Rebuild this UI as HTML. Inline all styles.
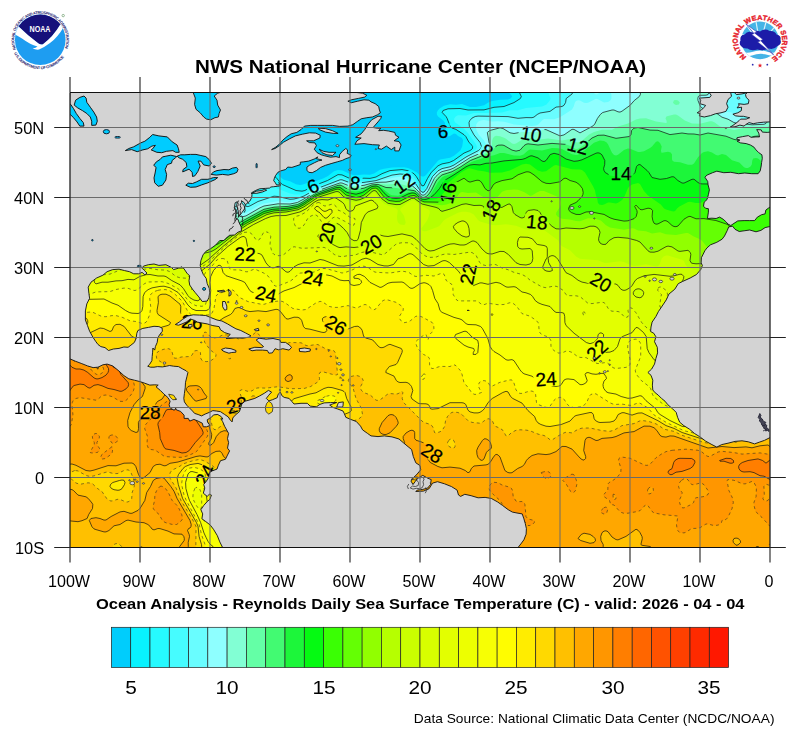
<!DOCTYPE html>
<html><head><meta charset="utf-8"><title>NHC SST</title>
<style>
html,body{margin:0;padding:0;background:#fff;overflow:hidden}
body{width:800px;height:737px;position:relative;overflow:hidden;font-family:"Liberation Sans",sans-serif;color:#000}
svg text{font-family:"Liberation Sans",sans-serif}
.t{position:absolute;white-space:nowrap;line-height:1}
</style></head><body>
<svg width="800" height="737" viewBox="0 0 800 737" style="position:absolute;left:0;top:0">
<defs><clipPath id="fr"><rect x="70.0" y="92.5" width="700.0" height="455.0"/></clipPath></defs>
<g clip-path="url(#fr)">
<rect x="60" y="80" width="720" height="480" fill="#00cdfc"/>
<defs><path id="r3" d="M68 88.5L112.6 88.5L114 91.6L116 92.1L118 91.1L120.1 88.5L202.2 88.5L202.8 90.5L206 94.2L210 96.4L212 96.6L214 95.7L215.9 92.5L215.2 88.5L774 88.5L774 550.5L66 550.5L66 88.5ZM328.5 94.5L327.4 96.5L327.5 98.5L328 99.7L330 101.1L332 99.9L333.3 96.5L332.6 94.5L332 94.1L330 93.8ZM175.6 96.5L173.5 98.5L174 101.1L176 102.8L178 102.2L179.9 100.5L180.6 98.5L178 96.5ZM194.6 96.5L194 98.5L194.2 102.5L196 107.7L198 109.4L200 110.2L202 110.4L204 109.6L205.2 108.5L206 106.5L206 104.5L205 102.5L199.2 98.5L196 94.5ZM299.9 146.5L298 150L297.6 154.5L298 160.2L300 162.8L302 160.9L302.3 158.5L300.1 152.5L300.7 148.5Z"/><path id="r4" d="M246 88.5L254.4 88.5L257.1 96.5L259.9 102.5L259.6 104.5L258 106.3L256 107.6L252 108.6L248 108.3L238 103.5L234.5 100.5L235.8 98.5L240 96.7L242.7 94.5L244 92.5L245 88.5ZM300 89.3L302.1 88.5L302.6 90.5L302.2 94.5L302.6 96.5L302 97.9L299.9 96.5L299.4 92.5ZM362 90L364 89L368.5 90.5L366.8 92.5L364 92.8L362 91.4L361.6 90.5ZM374 90.4L376.7 88.5L414.6 88.5L415.9 90.5L415.8 92.5L406.2 96.5L402 99.7L396.4 102.5L396.7 108.5L396 110.5L392 115.1L390 116.5L388.8 114.5L388.5 110.5L389.9 106.5L393.8 102.5L393.9 100.5L392.8 98.5L389.9 96.5L375.3 92.5ZM436 89.3L437.3 88.5L462.5 88.5L466 89.2L474 88.9L482 90.4L492 90.4L494 90.3L496.9 88.5L774 88.5L774 550.5L66 550.5L66 129.6L71.1 136.5L72.9 140.5L77.7 144.5L83.8 148.5L97.6 156.5L102 157.8L104 159L107.5 162.5L111.3 164.5L120 167L126 169.6L133.4 174.5L140 176.6L142.2 176.5L150 162.6L152.7 154.5L158 149.4L162 143.4L167.6 128.5L168.6 122.5L170 122L174 118L178.9 112.5L184 105.6L186 104.2L188 105L191.5 114.5L192.9 120.5L194 122.8L196 124.3L204 128.5L218 134.6L226 139.2L240 142L250 141.7L252 140.8L254 141.3L255 144.5L254 145L252 148.4L251.1 152.5L252.6 154.5L256 156L264 161.6L266 162.1L272 162L274 162.7L282 170.3L288 172.4L296 176.9L300 177.4L308 176.1L314 176.4L320 174.5L324.8 172.5L327.4 170.5L330 165.4L332 163.6L342 162.8L345 160.5L346 158.9L348 158.7L348.2 162.5L348.9 164.5L352 167.4L356 168.9L368 169L370 168.7L376 165.3L380 163.9L390 163.8L398 164.5L412 164.7L414 165.2L422 168.7L424 168.7L428 165.2L434 157.1L436 155.4L438 154.7L446 154.1L450 152.6L453.2 150.5L454.9 148.5L455.2 146.5L452.6 144.5L442 141.4L441.1 140.5L440.4 136.5L442 128.4L441.7 124.5L440 122.8L435.7 120.5L433.7 118.5L432.7 116.5L432.4 112.5L433.4 110.5L438.4 104.5L440.2 100.5L439.8 98.5L437.4 96.5L433.2 94.5L430.5 92.5ZM466.3 96.5L464.1 98.5L468.6 102.5L472 103.8L477.1 102.5L479.9 100.5L480.5 98.5L472 96.3ZM78 93.3L80 93.8L82.4 96.5L84.5 100.5L84.6 102.5L81.7 104.5L78 104.9L76 104.3L74.2 102.5L73.6 100.5L74 98.5L76 94.7ZM304 98L310 99.4L312.4 100.5L313 102.5L312.5 104.5L310 108.1L308 108.9L306 106.6L304.9 102.5L302.7 98.5ZM376 102L378 101.8L380 102.9L382.2 106.5L382 108.5L380.5 110.5L378 111.8L374 111.6L372.5 110.5L372.5 108.5L374 104.5ZM98 104.4L100 103.4L104 103L106.9 104.5L107.2 106.5L104 108.9L100 108.9L97.4 106.5ZM166 119.9L166.7 120.5L167.1 122.5L166 122.8L164.9 120.5ZM410 148.1L412 148.2L414.2 150.5L414.5 152.5L414 156.7L412 157.9L408.4 152.5L408 150.8ZM140 154.1L141 154.5L142.1 156.5L141.5 158.5L140 159.8L138.9 156.5Z"/><path id="r5" d="M400 90.2L404 90.5L402 92L400 92.1L398.7 90.5ZM510 89.7L510.9 88.5L774 88.5L774 550.5L66 550.5L66 141.2L72 143.4L80 147.9L100 159.6L107.4 164.5L120.1 170.5L128 173.5L133.3 176.5L138.8 178.5L142 179L144 178.5L146 175.4L155.6 156.5L164 143.1L168.9 132.5L174.4 122.5L180 115.5L182 113.8L184 113.1L186 115.6L188.1 126.5L190 129.4L196 132.4L200 135.7L206 139.2L217 144.5L223.2 150.5L224.8 152.5L227.8 158.5L230 161.1L232 162L238 162.8L240 163.8L243.2 166.5L248 172.7L252 174.5L256 174.2L262 172.5L268 170L272 169.6L276 172.2L282 178.4L284 179.8L290 181.2L296 184.2L300 185.1L302 184.8L308 182.7L316 181.1L323 178.5L328 176.1L334 171.2L338 170L342.6 170.5L350 174.1L354 175.2L364 174.6L370 174.8L374 173.6L380 169.8L384 168.7L392 167.4L404 167.3L408 168.1L412 169.7L417 172.5L420 175.6L422 176.6L424 176.4L426 175.1L438 160.7L440 159.6L450 157.7L454 155.8L460.3 150.5L462.2 146.5L463.1 140.5L462 138.1L458 136L456 133.9L454 133.4L450 136L448 136.4L446 135.6L445.3 134.5L445 132.5L445.4 126.5L444.8 122.5L443.3 120.5L438 116.6L436.9 114.5L436.8 112.5L437.8 110.5L439.6 108.5L444 105.7L450 104.2L456 104.7L462 104.1L470 107L476 107L484 105.3L488.3 102.5L492 101.1L500 99.7L508 99.5L510.6 98.5L512.2 96.5L510.9 94.5L508.6 92.5L509.2 90.5Z"/><path id="r6" d="M520 88.5L774 88.5L774 550.5L66 550.5L66 142.6L70 143.5L78 147.8L109.5 166.5L117.9 170.5L126 173.6L135.8 178.5L142 180.1L144 179.7L146 177.7L157.1 156.5L164.7 144.5L172 130.5L176 124.2L180 120.3L181.9 122.5L182.1 126.5L183.2 130.5L187.4 136.5L198 141.2L212 151.4L215.5 154.5L221 162.5L228 169.6L230 170.9L236 172.6L238 174.1L242 179.7L246 182.4L254 183.5L258 183.1L262 180.9L268 176.5L272 175.5L274 176L276 177.4L280 182.4L282.4 184.5L296 190.5L302 191.2L304.9 190.5L312 186.5L327.6 180.5L338 174.6L342 174.9L349.9 178.5L352 178.9L364 178.2L370 178.4L376 177L382 173.7L390 170.6L402 169.6L408 170.7L414 173.8L416.3 176.5L422 185.9L424 185.5L427.5 178.5L431.2 172.5L438 165.8L442 163.9L449.2 162.5L453.7 160.5L464 153.1L470.2 150.5L472.5 148.5L472.6 146.5L472 145.3L469.1 142.5L465.8 136.5L464 134.7L456 129.4L452 128L450.2 126.5L447.2 118.5L446 116.5L442.2 112.5L443.1 110.5L448 108.8L460 108.5L468 110L484 109.9L494 107.3L504 106.5L514 102.6L520.4 98.5L521.3 96.5L519.4 92.5L519.3 90.5Z"/><path id="r7" d="M550 88.5L774 88.5L774 550.5L66 550.5L66 143.1L72 145.3L80 149.5L108 166.5L120.7 172.5L128 175.3L134.1 178.5L142 180.8L144.5 180.5L146.6 178.5L158 157.3L165.1 146.5L170 137.4L174 131.6L176 130.2L178 131.8L180.4 136.5L180.7 140.5L179.4 146.5L180 149.4L182 150.5L184 150.3L190 146.5L192 147L195.4 152.5L204.5 158.5L208 164.7L210 166.2L218 169.9L226 177.9L232 181.2L242 188.5L252 191.5L258 194.1L262 193.9L264 192.6L266.7 186.5L268 184.8L270 183.6L272 183.7L277.4 188.5L290 193.5L294.8 194.5L302 194.5L306 193L312 189.2L316 187.3L329.2 182.5L338 178.1L340 177.6L342 177.8L348.6 180.5L352 181.1L370 180.4L377.8 178.5L390 173.2L394 172.3L402 171.7L406 172.3L412 175.2L414.8 178.5L420 187.7L422 190L424 189.9L426 187.1L428.8 180.5L432 174.6L438 168.8L442 166.7L452 164.2L466 155.1L474.8 150.5L476.6 148.5L476.9 146.5L476.1 144.5L468 133L464 128.8L455.2 122.5L454.1 120.5L454.2 118.5L455.6 116.5L458 115.3L466 115.6L474 112.9L484 113.1L502 112.4L510 110.3L518 110.2L526 108.1L542.1 106.5L546.5 104.5L549.8 100.5L550.5 98.5L548.4 92.5L549 88.5Z"/><path id="r8" d="M574 88.5L774 88.5L774 550.5L66 550.5L66 143.7L70 145L80 150.2L107 166.5L132.9 178.5L142 181.4L144 181.4L145.9 180.5L147.5 178.5L160 156.2L166 148.3L170 144.2L171.4 146.5L172 154.5L174 157.6L176 158.5L192 158.9L196.5 160.5L199 162.5L202.8 168.5L212 177.4L225.4 184.5L232 192.8L240 195.4L244 197.7L245.4 200.5L245.4 204.5L246 206.2L246.8 206.5L248 206.6L250 205.9L258 201.5L274 196.2L278 196.5L290 199.3L294 199L300 197.5L304 196L316 189L340 179.8L342 179.8L350 182.7L356 183L364 182.4L376 180.6L392 175.1L400 174L405.5 174.5L410 176.6L412.1 178.5L420 190.2L422 192.2L424 192.1L426.8 188.5L432.5 176.5L438 170.8L442 168.6L450 166.8L454 165L466 157L478.5 150.5L480.9 148.5L481.5 146.5L480.1 142.5L474 134.9L469.4 126.5L469 122.5L469.9 120.5L472 118.1L475.2 116.5L478 116.1L508 116.6L518 118.3L526 117.6L532 117.7L534 117.1L537.2 114.5L540 113L550 111.4L556 107.1L562 106.5L564 105.3L565.6 102.5L566.2 98.5L572 94L572.7 92.5L572.8 88.5Z"/><path id="r9" d="M578 88.5L600.3 88.5L599.3 92.5L598 94.1L596 94.6L590 90.3L586 89.7L580 90.4L578 89ZM610 88.5L713.3 88.5L714 93.4L716 95.2L719.3 96.5L721.6 98.5L722.3 100.5L722.6 108.5L724 110.8L726 111.7L732 112.4L738 116.4L742 118L752 119.7L754 119.3L755.1 118.5L754.9 112.5L755.6 102.5L754.6 100.5L750 98.8L747.1 96.5L745 92.5L744 88.5L774 88.5L774 550.5L66 550.5L66 144.3L70 145.5L78 149.6L106 166.5L132 178.6L142 181.9L144 182L147.1 180.5L160 158.8L162 156.4L164 155L166 156.5L168.7 162.5L172 164.9L176 165.7L188 165.1L192 166.5L193.3 168.5L194.3 172.5L196 175.3L204 179.6L210 184.3L218.8 188.5L221.7 190.5L225.9 196.5L228 198.5L236 202.2L238 204.1L242 212L244 213.3L246 213L260 204.9L264 203.4L278 201.3L288 202.3L292 202.2L298 200.6L306 196.5L316 190.2L340 181.5L342 181.5L350 184.2L360 184.4L384 180.1L394 177.4L402 176.5L406 177.6L410 180L420.5 192.5L422 193.8L424 193.7L427 190.5L434 176.7L438.1 172.5L442 170.1L450 168.2L454 166.6L468 157.4L482.7 150.5L485.4 148.5L486.5 146.5L486 144.2L484 140.4L478.7 134.5L476.6 130.5L476.1 128.5L476.2 124.5L478 121.8L480.7 120.5L484 120.1L492 121.6L498 121.2L504 121.7L514 124.4L532 126L536 125.6L538.3 124.5L542 120.4L544 119.1L554 119.2L560 117.2L572 109.4L573.7 106.5L574.9 102.5L576 101.1L578 100.2L580 100.5L584 102.7L586 103.1L588 102.8L596 98.7L598 99.2L604 102.6L608 102.1L610.3 100.5L611.4 98.5L611.4 94.5L609.4 88.5Z"/><path id="r10" d="M642 88.5L709 88.5L708.9 92.5L708 94.6L706 95.2L700 95.3L698.3 96.5L697.8 98.5L698 100.5L700.4 106.5L702.9 108.5L710 109.8L714 111.4L722 117.2L728 119.2L733.9 122.5L736 123L752 124.8L764 124.3L766 123.4L771.7 116.5L774 115.2L774 550.5L66 550.5L66 144.7L70 146L80 151.2L109.1 168.5L134 179.9L142 182.5L146 182.3L148.3 180.5L156 168.6L160 164L160.8 164.5L164 171.1L166 172.7L172 175.3L176 175.8L182 173.9L184 173.9L186 175.1L191.7 180.5L199.8 186.5L209.8 192.5L220 202.5L232 208.5L236 211.6L240 216.3L242 216.9L246 215.9L260 207.8L264 206L278 203.8L290 204L297.3 202.5L304 198.9L316 191.3L340 182.9L342 183L348 185.4L358 186L364 185.3L370 183.7L378 182.3L386 182.1L396 180.4L402 180.1L408 182.3L416 188.9L421.2 194.5L422 195.1L424 195.1L426 193.7L428.3 190.5L434.3 178.5L436 176.3L440 172.7L442 171.6L450 169.6L454 167.9L470 157.7L484 151.7L488 149L489.4 146.5L489.4 144.5L487.3 132.5L489.8 130.5L500 127.8L503 128.5L510 132.8L514 133.5L522 132L536 132.2L544 129.5L546 129.6L560 135.9L564 134.9L572 129.3L574 129.4L580 132.9L592 126.5L594.5 124.5L597.4 118.5L600.3 114.5L602.7 112.5L612 110L614 110L618 111.8L620 112.1L622 111.2L630 105.4L634.3 100.5L639.3 96.5L640.4 94.5L640.3 88.5Z"/><path id="r11" d="M650 88.5L658.8 88.5L657.3 90.5L654 91.9L652 91.7L650 90.6L648.9 88.5ZM674 100.3L676 100.1L678 100.5L679.8 102.5L678.8 104.5L676 105L674 104L673 102.5ZM668 116L674 114.5L676 114.6L678 115.4L684.8 120.5L692 123.4L700 123.7L710 121.2L712 121.3L714.8 122.5L720 126.6L734 130L744 127.9L766 127.9L768 126.7L774 119.6L774 550.5L66 550.5L66 145.1L70 146.4L80 151.6L106 167.4L118 173.3L136 181.1L142 183L146 183.3L148 182.3L154 175.5L156 174.7L162 179.5L168 183.4L170 184.1L174 184.4L180 183.6L186 185.2L202 194.6L204.3 196.5L209.8 204.5L212 206.5L218 210.8L227.5 214.5L229.6 216.5L232 220.6L234 221.5L238 220.9L244 218.6L264 207.9L276 205.7L290 205.2L296 204.1L300 202.5L316 192.2L336 185.1L340 184.1L342 184.4L348 187L358 187.5L364 186.7L370.3 184.5L376 183.4L386 184.6L394 183.9L402 184.4L408 186.1L414 189.1L416 190.3L420 194.8L422 196.2L424 196.3L426 195.2L428.4 192.5L434.6 180.5L437.6 176.5L440 174.3L443.5 172.5L450 170.9L454 169.3L471.2 158.5L484 153.4L489 150.5L491 148.5L491.8 146.5L492.2 140.5L492.8 138.5L494 136.7L496 135.8L500 136.2L504 137.8L506 138.8L512 143.5L514 144.1L516 143.6L522 139.8L526 138.4L530 138L538 139.7L548 138.4L562 140.6L570 139L576 142.2L578 142.5L582 140.8L589.1 134.5L594 132L602 129.7L612 129.8L618 126.4L628 123.6L636 119.6L640 118.4L646 118.2L656 121.6L666 123L666.8 122.5L666.5 120.5L665.5 118.5L666.4 116.5Z"/><path id="r12" d="M634 128.1L638 127.5L650 130.1L658 130.3L670 134.6L682 133L688 133.9L694 134L700 135L708 133L726 136.2L734 139.4L738 140.1L746 139.6L754 136.4L758 136L762 137.9L764 140.1L766.8 146.5L768 147.6L774 149.4L774 550.5L66 550.5L66 145.5L70 146.9L80 152.1L104 166.8L118 173.7L124 176L134 180.8L140 182.8L144 183.9L150 184.5L150.7 186.5L149.4 192.5L150 194.5L152 195.3L160 193L180 191.3L184 192.4L194 197L200 201.5L206 208.5L208 210.1L221.7 218.5L223.6 220.5L226.8 226.5L228 227.5L230 227.8L234 226.2L242 221.2L264 209.3L274 207.2L288 206.4L297.8 204.5L302 202.3L316 193L338 185.4L340 185.2L342 185.8L346 188.3L348 188.8L358 189.3L364 188.2L372 184.9L378 184.4L386 187.5L394 187.8L414 190.6L416 191.6L420.8 196.5L422 197.3L424 197.5L426.2 196.5L428.5 194.5L431.3 190.5L436 181.1L438 178.4L442 174.9L452 171.7L460 167.3L470.4 160.5L488 153.5L492.4 150.5L496 146.3L498 145.2L502 145L504 145.4L512 150.1L516 151.1L520 150.2L524 145.7L526 144.3L528 143.8L538 145L552 143.4L566 144.4L570 145.7L574 148.2L576 148.9L578 148.8L584 145L592 138L598 135.3L604 135.1L616 138.3L629.4 136.5L631 134.5L631.6 130.5Z"/><path id="r13" d="M600 140.4L604 141L606.7 142.5L608.1 144.5L612 152.8L614 155L616 155.6L618 154.7L624 150L628 148.5L630 148.7L638 151.9L640 152.1L644 151.2L650 147.9L652 146.5L656 141.8L658 141.2L660 143.1L661.7 146.5L661 150.5L661.3 152.5L662 152.8L668 151.7L670.7 152.5L672 154.5L672 159.5L672.4 160.5L674 161.7L680 162.2L688 164.8L692 164.7L694 163.5L698 157.3L702 152.9L704 151.9L708 151.2L712 152.5L716 155.1L718 155.5L722 154L726 154.9L732 160.2L739.3 162.5L744 167.3L746 168L748 167.9L750.5 166.5L751.8 164.5L752.3 160.5L753.2 158.5L756 157.9L758 158.5L760.5 160.5L762.3 166.5L764 168.8L768 169.9L774 170L774 550.5L66 550.5L66 145.9L70 147.3L79.9 152.5L108 169.3L134 181.2L144 184.6L146.4 186.5L146.3 188.5L144 194.5L143.5 198.5L144 202.1L146 204.4L148 204.9L152 204.2L162 199.6L174 198.7L178 199.5L184 203.6L192 204.2L196 206.5L204 215.4L206 216.6L212 218.4L215 220.5L218 223.9L222.3 230.5L224 232.1L226 232.6L230 230.9L244 221.3L264 210.5L274 208.2L290 207.1L298 205.3L303.2 202.5L316 193.9L338 186.3L340.7 186.5L346 190.1L348 190.8L356 191.6L362 190.6L370 186.4L376 185.1L380.1 186.5L390 194.4L392 195.2L398 195.7L408 192.2L412 191.5L414 191.8L416 192.8L420 197L422 198.2L424 198.6L428 196.9L430.6 194.5L438 182.2L442 177.6L444 176.3L452 173.5L466.4 164.5L474 161L488 156.5L494 155.3L500 153.1L504 153.1L514 155.5L520 155.7L523.5 154.5L528 150.5L530 149.6L542 150.4L552 148.1L558 148.3L562 149L572 154.3L576 155.1L578 154.8L582 152.6L594 142.7Z"/><path id="r14" d="M66.7 146.5L79.1 152.5L106 168.7L132 180.8L142.2 184.5L144.8 186.5L144.8 188.5L142 195.2L140 202.5L140 208.2L142 211.4L144 212.2L150 212.6L158 214.9L160 214.7L164.4 212.5L170 207.2L172 206.1L174 206.1L176 207.5L180 211.8L187.4 214.5L190 217.5L191.6 218.5L200 220.5L207.1 224.5L211.5 228.5L218 236.5L220 237.2L224 236.5L228 234.3L244 222.4L264 211.5L272 209.4L288 208.2L298 206.2L304 202.9L316 194.7L336 187.7L340 187.3L346 191.9L348 192.7L356 194.2L362.2 192.5L371.9 186.5L376 186L378 186.5L380 188.1L384 192.8L388 196.4L392 198L396 198.4L400 198L408 194L412 192.9L414 193L416 193.9L420 198L422 199.2L426 199.4L430 197.8L434.3 194.5L439.5 188.5L444.4 180.5L454 174.8L466 166.8L470 165L474 164.5L480 164.9L486 163.3L492 163L504 160.9L522 159.4L525.1 158.5L530 156L532 155.8L538 157.9L542 161L544 161.6L546 160.5L550.3 154.5L554 153.3L559 154.5L566 159L574 161.3L578 160.9L582 159.8L596 153.2L598 152.8L600 153.3L602 154.9L604.8 160.5L604.7 164.5L603.6 168.5L604 170.5L605.2 172.5L610 175.4L618 177.1L622 179L626 178.3L633.1 174.5L635 172.5L636.5 166.5L638 164.9L640 164.5L647.1 170.5L648.9 172.5L652 177.5L660 179.3L666.5 178.5L672 176.7L674 176.9L677.9 180.5L682 183L684 183.1L692 179.3L694 179.2L698 182.5L700 183.6L702 183.9L710 184L712 183.5L716 180.2L720 178.9L728 180.2L750 180.4L752 180.8L758 183.7L762 184.2L766 183.9L774 181.9L774 550.5L66 550.5L66 146.3Z"/><path id="r15" d="M68 147.4L78.3 152.5L106 169.2L132 181.3L140.9 184.5L143.6 186.5L143.6 188.5L140 197.2L135.9 210.5L136.4 214.5L138 217.1L140 218.3L146 219.6L152.3 222.5L156 223.4L162 222.8L170 219.2L174 219.3L178 220.3L180 221.2L186 225.7L190 227.2L196.6 228.5L206 235.8L210 240.5L212 241.8L214 242.3L218 241.6L224 238.6L244 223.5L264 212.5L274 210L288 209L298 207L302 205.1L314 196.7L318 194.5L338 188.1L340.2 188.5L346 193.5L356 196L360 195.2L364 193.4L369.9 188.5L372 187.5L376 187L378.9 188.5L386 196.9L388.2 198.5L392 199.7L400 199.6L412 194.1L414 194.1L416 195.1L420 199L424 200.7L436 198.9L438 198.3L440 196.7L445.8 190.5L447.3 184.5L448.6 182.5L461 172.5L468 168.6L470 168.3L478 170.6L484 171.2L490 172.8L502 172.4L509.8 170.5L522 164.6L526 163.8L530 164.5L537.9 170.5L542 171.8L546 171.3L554 165.5L556 165L572 169.2L580 169.4L582 169.9L585 172.5L593.2 186.5L595 190.5L596 195.8L597.3 198.5L597.8 202.5L599.2 204.5L602 204.9L604 204.6L608 202.6L610 202.4L616 203.6L618 202.8L622 199.9L624 197.4L627.8 188.5L629.2 186.5L632 184.6L638 183L640 184L644 191.1L648 195.4L660.8 204.5L664.1 208.5L666 209.6L672 211.3L674 211.4L675.6 210.5L677 208.5L679.4 206.5L688 202L690 201.7L696 203L700 203L714.3 196.5L718 195.4L722 195.6L724.3 196.5L726.3 198.5L728 203.1L730 204.7L734 204.4L736 203.3L740 199.3L744 198L752 197.8L754 198.6L758.2 202.5L762 203.8L764.2 202.5L765.5 194.5L766.6 192.5L770 188.7L774 187L774 239.7L772 240.9L770.7 244.5L770.6 246.5L772 253L774 255.5L774 550.5L66 550.5L66 146.8Z"/><path id="r16" d="M68 147.8L77.4 152.5L106 169.7L132 181.8L139.5 184.5L142.5 186.5L142.7 188.5L132.2 214.5L131.6 220.5L132 223.1L133 224.5L134 225.1L140 225.2L148 227.3L152 227.7L160 227.6L172 226L174 226.2L176 226.9L184 233L190 240.6L192 242.4L196 244.1L206 245.8L212 246L218 244L226 238.7L244 224.5L264 213.5L274 210.9L288 209.9L298 207.9L304 204.7L316 196.3L320.2 194.5L336 189.4L338 189.1L340 189.6L346 195L356 197.5L360 196.7L364 195L372 188.4L376 188L378 189.2L384 196.8L388 200L390 200.7L396 201.4L400 201.2L410 196L414 195.4L416 196.3L420 200.1L424 201.9L440 202.2L445.4 200.5L450.2 196.5L451.9 192.5L452.2 186.5L454 183.6L464 178.2L468 181.4L470 182.1L476 180.4L478 180.2L480 180.8L482 183L485 188.5L488 190.8L490 190.4L493.5 184.5L496 182.7L502 180.6L512 178.8L518 174.8L526 171.9L528 171.8L530 172.3L534 174.9L542 181.7L546 183.3L550 183.6L560 181.8L564 178.4L566 178.2L570 180.5L576 182.2L579.3 184.5L582.4 188.5L583.2 192.5L582.9 194.5L582 196.5L578 200.8L576 202.5L570 205.2L568.5 208.5L569 210.5L571.3 212.5L576 214.4L580 214.5L586 212L590 211.7L604 214.4L610 217.8L614 219.2L624 221.1L628 220.8L634 218.7L636.2 216.5L637.2 212.5L636.9 210.5L634.7 206.5L636 205.1L640 209.4L642 209.8L648 208.2L650.3 208.5L652 209.7L652.6 210.5L652.1 216.5L652.8 220.5L654 223.2L656 224.2L658 223.9L664 220.7L666 220.7L668 221.8L672 225.5L674 226.5L676 226.7L678 226L684 219.2L688 216.8L690 216.3L696 218.8L704 218.6L715.9 220.5L726 223.9L728 224.8L729.7 226.5L732 231.5L734 232.8L742 232.6L752 236.8L758 236.1L762 236.9L764 238.2L765.3 240.5L766.5 248.5L769.2 260.5L772 284.4L774 290.1L773.1 302.5L774 306.8L774 550.5L66 550.5L66 147.3Z"/><path id="r17" d="M68 148.3L79.9 154.5L104 169.3L134 183.2L138.2 184.5L141.4 186.5L141.7 188.5L140.9 190.5L135.1 204.5L131.8 210.5L125.6 226.5L124.8 232.5L126 235.1L130 237L136 237.5L153.5 232.5L162 232.1L170 232.5L174.8 234.5L179.8 238.5L185.3 248.5L187.5 250.5L190 251.5L194 251.4L202 249.8L210 249L214 248L222 243L245.7 224.5L264 214.6L272 212.1L286 211L298 208.7L304 205.7L316 197.3L322.9 194.5L335.5 190.5L338 190.2L340 191L344 195.2L346 196.5L356 198.9L360 198.1L364 196.5L367 194.5L371 190.5L374 189.1L376 189.3L377.6 190.5L384 198.7L388 201.6L390 202.2L396 202.9L400 202.7L410 197.5L414 196.6L416 197.7L420 201.3L424 203.2L442 205.2L446.5 204.5L452 202.4L454.3 200.5L460 192.8L462 191.9L468 193L476 192.5L484 197.4L488 198.3L494 198.7L496 198.1L498 196.6L502 191.7L506 190.3L514 189.4L518 189.7L524 192L530 195.8L532 195.6L536.8 192.5L540 191.1L544 191.1L556.9 196.5L560 199L561.1 202.5L560.9 204.5L560 206.9L556.3 212.5L556 214.5L557.5 216.5L562 218.7L570 219.5L576 220.9L580 221.3L588 218.3L594 218.4L600.9 220.5L606 225.3L610 227.5L624 229.8L632 228.2L634 228.4L638 230.4L646 231.2L652 233.4L660 232.3L666 234.2L676 235L686 233L688 233.1L693.8 236.5L700 239.2L702 240.7L706 245.7L708 247.2L716 249.8L734 244.8L744 243.8L746 244.9L752.1 250.5L756 255.1L760 257.8L764 259.8L766 262.3L767.6 268.5L770.5 288.5L770.9 304.5L772 308.1L774 310.2L774 550.5L66 550.5L66 147.8Z"/><path id="r18" d="M66.8 148.5L78.8 154.5L104 169.9L140.2 186.5L140.6 188.5L140 190.4L134 204.5L130.6 210.5L124 225L117.9 240.5L117.2 244.5L117.9 246.5L120 246.9L128 245.2L142 244.2L147.9 242.5L155.7 238.5L160 238.2L164 238.8L168 240.4L173.6 246.5L182 254L184 255.1L188 255.7L192 255.6L208 252.4L212 251.2L216 248.9L241.6 228.5L247.5 224.5L267 214.5L274 212.8L286 212L298 209.7L304 206.8L318 197.3L336 191.6L338 191.6L339.7 192.5L343.4 196.5L346 198.1L356 200.3L360 199.6L366 197L372 191.5L374 190.5L376 191L382 198.9L388 203.3L396 204.6L400 204.5L411.4 198.5L414 198.2L422 204L436 207.4L438.7 208.5L440 210.2L442 211.4L450 209.1L462 204.4L466 203.8L474 205.5L480 205.3L482 205.7L483.7 206.5L485.5 212.5L488 213.3L490 212.3L491.8 208.5L494 207.1L502 207.4L508 204.2L510 204L511.9 206.5L513.3 212.5L515 214.5L520 217.5L522 218L524 217.4L525 216.5L526 212.5L528.2 210.5L534 209.7L538 210.5L540 212.5L542.2 216.5L544 218.5L552 226.3L556 228.8L560 229L566 228L580 228.8L584 228.3L590 226.2L594 226.2L596 226.8L598 228.2L599.5 230.5L600 232.5L598.6 238.5L598.7 240.5L600 243L602 244.2L604 244.5L606 244.2L609.2 240.5L614 237.7L618 237.3L628 238.2L636.7 240.5L640 242L648 250.8L650 252.1L654 252.2L658 251.2L666 246.7L668 246.1L672 246.9L678 251L680 251.4L688 250.3L690.3 252.5L690.8 254.5L690 260.5L690.9 262.5L692 263.3L696 263.8L708 263.3L722 264.6L726 263.4L728 263.6L728.5 264.5L732 266.4L734 266.6L738 265.1L742 261.2L744 260L746 260.4L750 264L754 271.5L756 271.7L762 269.3L764 270.2L768.4 286.5L769.2 304.5L771.4 310.5L774 312.6L774 550.5L66 550.5L66 148.3Z"/><path id="r19" d="M68 149.9L77.4 154.5L87.8 160.5L92 163.8L102 169.7L118 177.4L125.9 180.5L132 183.9L138.6 186.5L139.4 188.5L134 201.9L129.2 210.5L113.4 244.5L111.8 250.5L112.1 252.5L114 253.8L134 253.1L142 250.8L150 250L158 246.5L162 246.3L166 248.2L174 258.2L176 259.5L180 260.3L190 259.9L192 260.5L196 262.8L198 262.7L202 260.6L214 252.3L243.6 228.5L249.8 224.5L265.3 216.5L272 214.4L286 213.4L298 210.9L304 208.2L318 198.5L336 193.2L338 193.6L342 197.7L346 200.3L352 201.8L356 202.1L360 201.4L366 199L372 194L374 193L376 193.9L378.6 198.5L384 203.7L388 205.8L391.4 206.5L396.4 208.5L397.8 210.5L397 216.5L397.3 220.5L398 222.6L400.2 224.5L404 225L404.9 224.5L405.7 222.5L404 215.8L400.3 210.5L400.5 208.5L408 202.5L412 200.5L414 200.3L420 205L428 209.2L429.6 210.5L429.9 212.5L428.8 216.5L427.1 220.5L421.3 228.5L421.9 230.5L424 231.3L426 231.2L438 226.8L440 225.3L443.7 220.5L446 218.7L458 212.8L462 211.7L466 211.7L470 212.5L473.8 214.5L478 220L480 221.4L492 224.9L496 225.2L506 224.3L516 225.7L526 229.4L542 229.6L544 230L558.3 240.5L560.2 244.5L562 246.2L570 250.3L576 256.4L580 258.7L598 260.3L604 262.7L606 262.9L620 261.3L624 262L630 264.8L634 265.9L638 265.8L646 264.3L656 266.6L658 266.2L659.6 264.5L661.7 258.5L663.6 256.5L666 255.5L668 255.6L682 259.7L684 261L685.4 264.5L687 266.5L690 268.6L694 270L702.6 270.5L708 274.8L716 277.7L722 282.7L724 282.6L730 279.7L734 279.1L740 281.2L748 281L754 282.8L764 283.4L766 285.8L766.7 288.5L767.2 302.5L768.5 308.5L772 315.5L774 316.8L774 550.5L66 550.5L66 149.2Z"/><path id="r20" d="M66.9 150.5L85.8 160.5L96 167.8L120 179.4L123.5 180.5L132 185.3L135.6 186.5L137.3 188.5L132 203L127.4 210.5L121 222.5L116 233.4L110.6 242.5L104.8 264.5L104.7 266.5L106 267.9L110 267.5L118 262.8L122 261.4L128 261L136 263.3L140 263.5L154 258.6L158 258.2L164 259.9L180 268.2L186 268L190 268.8L194 268.6L198 266.8L208 259.8L222.9 246.5L240 232.6L253.6 224.5L265.7 218.5L271.1 216.5L276 215.7L286 215.5L300 211.9L306 208.8L314 202.4L318 200.1L322 199.6L328 200L334 197.7L336 198.1L342.6 202.5L344.3 204.5L346 208.7L348 210.8L350 211.4L352.9 210.5L354.3 208.5L354.8 206.5L356 205.7L370 200.4L372 200.2L374 201.6L376.8 204.5L377.9 206.5L377.2 208.5L368 211.9L365.2 214.5L361.3 222.5L360.4 230.5L358 239.4L356.8 240.5L354 240.7L350.3 238.5L347.1 232.5L343.6 228.5L339.2 224.5L336 223L334 223L332.2 224.5L326 231.9L324 233.3L318.9 234.5L318 235.8L318 237L319.5 238.5L324 239.9L338 247.1L340 247.6L346 246.9L354 247.5L360 246.8L372 247.9L374 247.7L376.9 246.5L378.4 244.5L378.4 242.5L376.5 236.5L377.8 234.5L384 236.1L388 236.5L402 233.9L412 236.2L416 239.3L424.9 248.5L428 250.5L430 251L434 250.5L446 245.3L450 244.1L454 243.7L460 245L464 245L466.1 244.5L472 241.1L474 241L477 242.5L482 249L486 252.7L488 253.7L492 254L500 251.4L504 251.5L508.4 254.5L516 262.7L520 264.5L526 265L530 264L532 262.2L532.8 258.5L532.2 250.5L530 248.5L522 249L519.5 248.5L517.7 246.5L517.4 242.5L518.5 238.5L520 237L528 237.3L532 238.7L534 240.5L536 243.4L537.5 244.5L544 245.5L546.5 246.5L547.3 248.5L547.3 256.5L546.9 258.5L546 259L542.8 266.5L543.1 268.5L544 269.7L546 270.9L548 271.3L550 271.4L552.4 270.5L552 268.5L548.6 262.5L548.2 258.5L549.2 256.5L552 255.6L554 255.9L556 257.2L558 259.5L566 272.7L572 275.5L578 280.2L582 282.1L588 283.3L592 283.3L594 282.5L598 279.5L600 279L610 282.9L616 284.1L618 285.4L620.2 288.5L622 289.9L624 290.4L626 290L630 287.7L632 285.7L635.2 280.5L637.5 278.5L644 275.8L654 274.4L670 276.3L674 275.8L680 274.2L682 274.4L683.8 276.5L683.6 278.5L680 286.5L679.2 296.5L673.4 304.5L672 308.5L672.1 310.5L674 314.2L676 315.5L680 316.7L682 316.7L684 316L690 310.6L694.3 302.5L696 296.5L698 294L700 292.9L708 294.7L718 294.3L730 295.9L736 292L738 291.9L748 293.8L754 293L760 290.5L762 290.6L762.9 292.5L764.2 306.5L768 315.4L769.5 320.5L769.9 324.5L769.4 330.5L769.7 334.5L772 336.3L774 336.6L774 550.5L66 550.5L66 150.3ZM634.4 290.5L633.3 292.5L633.4 294.5L636 297L640 297.8L642 296.8L643.5 294.5L643.7 292.5L642.6 290.5L640 289L638 288.8L636 289.3ZM458 222.4L462 220.9L464 221.1L466.4 222.5L468 225L469 228.5L469.5 234.5L468.8 236.5L466 237.1L462 235.9L457.4 232.5L454 228.5L453.4 226.5L454.9 224.5Z"/><path id="r21" d="M80 161.7L81.7 162.5L80 163.4L78.5 162.5ZM106 176.4L108.8 176.5L114.1 178.5L116.7 180.5L117.3 182.5L116 183.5L114 183.6L112 182.8L107.1 178.5L105.6 176.5ZM80 178.7L82 178.5L83.7 180.5L84 182.5L82.1 184.5L79.7 182.5L79.2 180.5ZM67.6 182.5L68.2 184.5L66 186.6L66 181.7ZM86 189.8L88 189.6L92 190.4L94.8 192.5L94.9 196.5L94.2 198.5L92 200.8L90 201.4L88 201.1L86.6 200.5L85.1 198.5L84.9 192.5ZM318 202.4L320 202.9L324 205.9L326 205.9L332 204.2L334 204.6L336.1 206.5L338 210.1L342 211.6L350 217.3L354.9 218.5L355.1 220.5L354 225L352 225.7L347.2 222.5L336 216.9L334 217.2L332 218.4L326 224.8L324 225.2L318 216.5L316 215L314 214.7L310 216.5L307.7 218.5L304 225L302 227.1L300 228.2L298 228.2L296 227.1L294.6 224.5L293.7 220.5L293.7 218.5L295.2 216.5L300 215.4L306 212.1L313.8 204.5ZM68 207.5L72 206.8L76 207.8L78 210.5L78 212.5L74 218.5L72 220L66 221.5L66 207.8ZM98 222.9L100 223.8L100.2 224.5L97.3 224.5ZM244 232.4L248 232.1L250 232.7L252.3 234.5L256 239.7L258 240.3L260 238.9L263.6 232.5L266 231.8L268 232.4L270.1 234.5L270.7 236.5L270 244.5L272 252.3L274.1 254.5L278 255.7L282 255.5L284 254.4L292 247.6L294 246.7L302 248.3L324 247.4L326.8 248.5L334.3 254.5L338 256.1L342 256.8L348 255.6L354 255.4L361.7 252.5L366 251.6L370 251.8L382 254.7L384 254.3L386 252.9L395.6 244.5L398 243.4L402 242.7L408 242.8L412 244L415 246.5L422 253.9L426 256.3L430 257.4L436 257.1L442 254.7L446 253.9L454 254.5L468 252.4L472 252.5L476 255.3L479.7 262.5L482 264.6L486 265.6L494 264.4L496 264.7L502 268L508 269.7L514 272.4L522.1 274.5L525.7 276.5L530 280.1L542 287L546 287.7L554 286L557.1 286.5L563.4 290.5L566 294.6L568 295.6L576 295.8L580 296.6L588 303.3L592 303.6L602 302.3L604 302.6L606 304.5L608 308.2L610 310.4L612 311.2L618 311.5L620 312.2L624 316.5L626 317.6L628 316.6L628.7 314.5L628 310.5L628.6 308.5L630 307.7L632 308.2L636 312.8L641.7 322.5L646 327.2L650 330.2L652 330.1L653.5 328.5L656 323.5L658 321.2L660 322.8L661.7 328.5L664 331L666 330.7L670 328.5L672 328.1L678 330.6L680 330.2L686 326.1L695.4 322.5L697.4 320.5L700 316.5L712 307.3L722 305L730 305.9L738 304.2L742 305L744 306L758 316.7L764 320.4L765.7 324.5L767 334.5L768.3 336.5L770 337.3L774 337.6L774 550.5L66 550.5L66 240.1L68 241.4L72.3 246.5L72.3 248.5L66 250.5L68 251.7L70 254.5L82 264.4L84 265.3L86 265.5L88 264.8L88.5 262.5L87.4 260.5L80.3 256.5L78.3 254.5L75.7 248.5L80.4 244.5L84 242.7L86 243L88 244.7L92 251.4L94.8 254.5L95.5 260.5L97.7 270.5L98.5 272.5L100.7 274.5L104 274.7L110 274.1L124 268.3L128 268.4L132 269.8L136 270.4L150 268.4L158 269.8L166 270.1L170 271.8L176 276.5L180 277.8L186 278.2L208 262.6L227.3 244.5L240 234.5ZM191.5 288.5L192 289.8L192.5 288.5L192 287.1ZM582.7 312.5L583.1 314.5L584 315.1L585.6 314.5L584.9 312.5L584 311.7ZM658 288L660 286.9L662 287.3L666 290.3L667.2 292.5L667.5 294.5L666 301.4L664 305.7L662 308.2L660 307L659.8 304.5L661.4 294.5L657.8 290.5Z"/><path id="r22" d="M318 206.4L322 210.1L324 211.3L326 211.2L330 209.1L332 210L332 212.5L328 217L326 218.3L324 217.5L320 212.9L316 210.3L314.6 208.5L316 206.6ZM240 237.7L242 236.7L244 236.5L246 238.2L248 249.2L249.1 250.5L252 251.9L260 253.8L262 255.1L266 262.9L269.1 266.5L272 267.8L274 267.8L278 266.3L280 266.6L286 271.8L288 272.3L290 271.3L294 266.9L298 264.6L304 262.8L310 263L320 259.5L324 260.2L338 265.8L344 266.1L352 265L362 259.2L366 258.2L370 259.5L378 264.5L384 265.9L388 266L393.5 264.5L398 258.8L402 257.6L408 254.2L410 253.7L412 254.1L414 255.5L423.6 264.5L428 266.1L434 265.6L442 261.1L444 260.6L446 260.8L449.3 262.5L457.9 270.5L462.5 276.5L466.9 280.5L470 285.9L472 286.2L480 282.9L482 282.9L488 284.3L496 282.3L500 283.2L506 286.9L508 287.2L514 286.7L516 287.2L522 292L526 292.8L530.6 294.5L532.6 296.5L535.2 300.5L538 302.7L542 304.4L550 306.5L554 311L556 312.4L562 312.6L564 313.4L564.7 316.5L564.9 322.5L566 325.5L574 333.2L586.3 342.5L590 343.7L593.9 342.5L596.2 340.5L597.5 338.5L598.2 334.5L600 332.9L602 333.1L603.6 334.5L603.5 336.5L601.2 340.5L600.3 348.5L600.6 350.5L602.7 352.5L610 352.1L614 350.5L617.5 346.5L620.1 338.5L622.5 336.5L632 332.7L636 327.5L638 327.8L643.5 332.5L646.2 336.5L647.2 348.5L648.9 352.5L654 359.7L658 361.9L660 361.6L666 357.1L672 355.3L681.8 348.5L690 345.5L696 341.6L704 339L706.2 336.5L707.8 328.5L710 326.1L712 326.1L715.5 328.5L718 329.2L720.8 328.5L724 325.5L726 324.6L728 325.4L732 328.7L734 328.9L736 327.6L738 324.7L740.6 318.5L742 317.3L744 318.2L747.2 322.5L748.2 324.5L749.4 330.5L751 332.5L760 335.1L765.8 338.5L774 338.6L774 550.5L66 550.5L66 262.3L69 264.5L71.3 270.5L72 271L76 272.3L86 272.1L91.8 274.5L93.5 276.5L94.5 282.5L96 283.9L102 282.2L108 282.2L116 280.9L122 280.7L128 279.4L134 279.8L139.7 276.5L146 274.7L150 274.5L158 276L164 276L166 276.6L171.7 280.5L180 284.8L183.4 288.5L188 295.7L190 297.8L194 300.1L198 300.8L200 299.2L200.8 294.5L200 287.9L196.5 278.5L196.8 276.5L198.1 274.5L201.9 270.5L210 264.2L216 257.2L227.9 246.5Z"/><path id="r23" d="M222 258.5L224 258.7L227.1 260.5L229.6 268.5L232 269.8L240 270L246 271.8L248 271.7L254 269.2L256 269.6L264 273.2L268.5 276.5L274 285.2L276 286.3L278 286L290 281.3L293.9 278.5L298 274.2L300 273.1L314 272.1L322 268.4L326 268.6L342 273L346 272.2L352 270L360 266.4L364 266.2L368 267.6L374 271.7L376 272.3L390 273L400 271.4L404 271.4L408.9 272.5L414 275.9L416 276.5L426 275.3L434 276L442 273.1L444.2 274.5L446.2 280.5L452 284.6L452.8 286.5L453.2 294.5L456 299.3L458 300.9L476 300.9L478 301.6L482 304.7L484 304.7L488 303.2L498 304.7L504 304.5L510 302.7L512 302.9L514 304L516.8 306.5L522 313.6L530 316.2L536.3 320.5L538 322.5L538.7 324.5L539.1 330.5L540 332.8L542 334.9L546.9 336.5L549.7 338.5L550.8 340.5L551 346.5L551.9 348.5L554 350.6L558 353L562 353L566 351.1L568 351L572 352.4L578 356.9L580 357.4L586 357.6L596 363.1L598 363.6L606 362.5L608 363.4L612 367L614 368.1L616 368.5L626 367.4L628.6 366.5L629.9 364.5L630.2 362.5L629.9 358.5L627.7 348.5L627.8 344.5L628.5 342.5L630 340.7L632 339.7L636 339.1L638 339.8L640 342.3L640.7 344.5L640.7 356.5L635.9 368.5L635.3 370.5L635.6 372.5L636.5 374.5L641.3 380.5L649 386.5L650.6 388.5L652.5 394.5L654 397.1L664 404.8L670 407.2L674 406.3L676.7 404.5L678.4 402.5L678.9 400.5L678.5 398.5L676 392L676.3 380.5L678 373L680 368.8L696 358.8L700.4 352.5L708 346.9L712 344.7L720 341.6L724 340.8L728 340.7L732 342.4L744 349.9L746 350.3L752 350.1L754 350.9L758.7 354.5L762 355.7L764 354.5L766.5 342.5L768.1 340.5L770 339.7L774 339.4L774 550.5L66 550.5L66 291.8L76 293.5L82 293.4L85 294.5L88 294.8L96 291.9L110 291.6L116 289.5L124 288.1L128 288.3L134 290.5L136 290.3L138 289.3L144 284L148 282L162 281.7L168 283.4L178 288.6L182 292.5L188 300.5L192 303.8L196 305.7L202 306.3L204 305.7L205.5 304.5L206.1 302.5L206 290.5L203.9 280.5L204.5 274.5L205.5 272.5L212 266.2L216 260.8L218 259.3ZM194.9 488.5L193.2 492.5L192.8 498.5L196 505L198 507.8L200 509.4L201 508.5L201.7 506.5L201.7 494.5L200 489.7L198 487.6L196 487.4ZM216.5 502.5L217.2 508.5L215.4 516.5L215.3 524.5L216 526.4L220 527.7L226 532.4L226.1 530.5L224 528.5L224 524.8L221.9 522.5L222.1 514.5L220.1 512.5L220.1 508.5L218.1 506.5L218.2 502.5ZM203.8 518.5L204 520.7L206 522.4L206.4 520.5L206.1 518.5L204 517.8Z"/><path id="r24" d="M218 265.5L220 265.3L221.4 266.5L223.1 272.5L226 275.7L242 281L244.9 282.5L249.8 290.5L252 292.1L254 292.7L260 292.2L274 295.2L277.3 294.5L284 290.9L294 287.6L311.6 278.5L326 274.8L332 276L340 280.1L344 280.7L349 280.5L350.4 284.5L354 285.5L359.6 284.5L361.7 282.5L361 280.5L360 279.5L358 278.5L354 278.2L353.8 276.5L357.4 274.5L360 274.3L364.5 276.5L370 282.4L380 287.4L382 287L388 283.2L392 282.3L402 282L404 282.8L410 288L412 288.4L414 287.7L420 283.6L424 282.7L426 283.1L428.9 284.5L430.9 286.5L432.6 290.5L434.8 298.5L438 303.5L440 310.5L442 312.4L454 317.4L460 319L462 319.9L466 323.6L468 324.5L476 324.8L480.6 326.5L482.4 328.5L486.8 336.5L488 339L490 346.4L492 349.5L494 351.5L500 355L506 359.7L508 360.2L512 359.6L514 360.7L520 369.9L522 372.3L524 373.8L532 376.2L538 381.1L546 383.3L552 385.9L556 386.5L560 385.7L561.3 384.5L564 380.1L566 379.1L568 378.9L574 379.6L580 384.6L582 384.7L584 384L586.3 382.5L587.2 380.5L585.1 374.5L586 373L588 372.5L592 373.9L596 374.3L602 373.3L604 373.7L605.9 376.5L606.5 378.5L604 381.1L603 384.5L603.2 386.5L603.8 388.5L606 391.5L608 392.7L616 394.1L621.1 396.5L628 398.3L632 398L640 395.7L642 396.2L646 400.7L655.5 408.5L657.8 412.5L660.1 414.5L669.9 420.5L682 426.3L684 426.7L686 426.2L687.4 420.5L689.5 416.5L688.8 410.5L690 406.5L696 399.1L700 397L702 395.1L703.2 392.5L704.7 386.5L704 376.5L705.3 372.5L708 370.8L714 369.3L715.3 368.5L716.5 366.5L713.2 358.5L713.2 356.5L714 354.5L720 350.1L724 349.1L726 349.7L736.2 354.5L738.2 356.5L742 363.6L744 364.8L752 365.4L756 366.4L759 368.5L762 373.1L764 373L766 362.1L768.4 342.5L770 340.9L774 340.1L774 550.5L230.5 550.5L228.5 548.5L228.3 540.5L226.3 538.5L226.8 530.5L224.7 528.5L224.6 520.5L222.6 518.5L222.6 514.5L220.6 512.5L220.6 508.5L218.5 506.5L218.6 502.5L216.4 500.5L216 494.6L214 500.5L213 508.5L212 510.6L210 511.2L208 507.2L206.2 494.5L202.6 484.5L201.8 476.5L200.5 474.5L198 473L192 471.5L190 471.9L188 474L185.6 482.5L185.9 488.5L188.1 496.5L189.5 500.5L197 514.5L200.6 522.5L204 533L206 537.3L208 541.4L210 544.1L213 546.5L214.1 550.5L66 550.5L66 296.2L70 296.4L74 297.5L80 297.3L90 299.3L104 299L112 303L118 305.2L125.6 310.5L129.3 312.5L132 313.2L138 313.5L140 312.9L142 310.5L142.8 306.5L143.1 296.5L144.7 292.5L148 289.7L152 287.9L160 286.4L164 286.2L170 287.8L178 292.4L184 299.4L188 305.1L192 308.9L196 310.5L206 310.6L208 309.8L209.3 308.5L210.6 304.5L210.1 298.5L210.7 290.5L209.9 282.5L210.7 276.5L213.5 270.5ZM461 332.5L455.6 334.5L454.8 336.5L455.8 338.5L464 345.1L468 347L473.7 348.5L474.4 350.5L473.3 352.5L473.2 354.5L476 354.4L477.8 352.5L478.5 344.5L477.8 340.5L472 337.1L468 332.7L466 331.3L464 331.3ZM219.5 484.5L218 487.3L216 494.5L218 494.9L218.4 494.5L218.2 490.5L220.4 488.5L220 484ZM468 310.1L469.3 310.5L467 310.5ZM492 313.6L492.8 314.5L492 315.6L491.3 314.5Z"/><path id="r25" d="M158 290.3L162 289.6L166 289.6L169.1 290.5L174 293.3L182 300.9L188 311.7L192 315.4L194 316.1L202 315L208 315L210 314.5L212 313.1L214 308.5L216 296L218 293.9L230 289.4L232 289.7L234 290.8L238 296L240 297.7L248 301.6L262 304.4L264 304.3L272 301.8L278 301.1L282 301.3L284.7 302.5L292.9 308.5L302 310L306 309.5L316 302.9L320 301.4L322 301.6L329.5 306.5L334 307.4L338 307.4L348 305.6L356 308L358 307.5L364 304.6L366 304.6L368 305.6L372 309.3L374 309.8L376 308.7L382 301.3L384 300.1L386 299.7L388 300L396 302.3L402.3 306.5L403.3 308.5L403.1 310.5L399.3 316.5L399.4 318.5L402 321.9L404 322.7L408 322L410.7 320.5L415.5 316.5L418 315.8L422 316.9L432.2 322.5L433.7 324.5L433.9 328.5L432 332.2L429.7 334.5L428 339.9L426 334.5L424 335.1L419 338.5L417 340.5L416.2 342.5L416.2 344.5L417.7 348.5L423.6 354.5L428 356.5L429.4 358.5L429.7 366.5L431.9 368.5L434 368.4L440 366.4L450 366.5L454 364.7L456 365.7L460.3 370.5L462 374.2L464 382.7L468.9 388.5L471.5 392.5L474 394.3L476 394.4L481.5 392.5L481 390.5L480 389.7L478.5 386.5L478.5 384.5L479.4 382.5L482 380.8L484 380.6L486 381.1L488.2 382.5L490 385.8L492 386.2L500 382.3L510 379.9L512 380L513.8 382.5L516 389.8L518 392.7L520 393.4L522 393.4L530 391L532 391.1L534 391.9L535.6 394.5L536.5 402.5L538 404.5L546 407.4L548 407.4L550 406.2L553.9 400.5L556 398.5L560 397.3L562 397.7L564 399.2L567.5 404.5L570 406.7L574 407.6L580 406.9L584 405.2L586.8 402.5L589.1 396.5L590.8 394.5L594 393.5L596 393.9L610 402.8L614 404.5L622 404.1L630 405.4L632 405.2L638 402.9L640 403.2L648 408L654 414.9L666.4 422.5L684 430.7L696 433.6L700 433.5L701.4 432.5L700.9 426.5L705.8 418.5L706.3 410.5L710.7 402.5L711.2 396.5L712 393.3L714.3 390.5L724 382.9L726 381.8L728 381.5L734 382.7L742 379.5L746 379.2L749.3 380.5L758 387.3L762 388.9L764 388.7L766 385.7L766.8 380.5L769.1 344.5L770 342.3L772 341.3L774 341L774 550.5L231.5 550.5L229.5 548.5L229.3 540.5L227.2 538.5L227.5 530.5L225.4 528.5L225.2 520.5L223.2 518.5L223.2 514.5L221 512.5L221 508.5L218.9 506.5L219 502.5L216.8 500.5L216.7 496.5L218.9 494.5L218.7 490.5L220.8 488.5L220.6 484.5L222.4 482.5L222 480.9L220 481.4L218 482.9L216.7 484.5L214 490.3L212 490.5L208 486.8L206.6 484.5L205.9 482.5L205.2 474.5L204 471.8L200 468.9L194 467.3L188 468.4L185.5 470.5L183.5 474.5L182.4 478.5L181.8 482.5L182.1 486.5L183.9 494.5L186 499.8L199.2 524.5L201.5 534.5L205 544.5L205.5 550.5L66 550.5L66 312.3L76 313.4L92 311.9L102 316.6L106 316.7L112 315.6L116 315.6L122 317.2L130 320.8L136 321.5L142 323.4L144 323.4L146 322.2L147.2 320.5L149.8 314.5L150.7 306.5L149.7 298.5L150.6 294.5L154 291.6ZM423.1 374.5L421.6 376.5L421.5 378.5L422 379.5L424 379L425.1 376.5L425.2 374.5L424 373.7ZM325.4 396.5L317.8 400.5L316.5 402.5L320.3 404.5L326 405.1L333.7 402.5L335.7 400.5L336 398.2L334.9 396.5L334 396L330 395.4ZM302.7 406.5L304.9 406.5L304 405.2ZM313.4 466.5L313.3 470.5L315.3 474.5L318 477.1L320 476.7L321.5 472.5L321.6 470.5L320 466.7L318 465.3L316 464.8L314 465.4Z"/><path id="r26" d="M162 294.2L166 294.2L170 296L180 304.2L180.8 306.5L180.6 312.5L181 314.5L186 321.2L188 322.8L190 323.6L194 323.1L200 320.3L204 319.7L207.8 320.5L214 323.2L216 323L224 317.6L230.5 314.5L232.6 312.5L234.9 308.5L238 307.5L240 307.8L246 310.7L250 311.6L258 310.8L266 311.6L276 309.3L278 309.6L280 311L286 318.6L288 319.1L294 317.2L298 317.3L300.2 318.5L301.7 320.5L303.5 326.5L305.3 328.5L310 329.2L322 332.3L324 332.5L326 331.8L326.8 330.5L326.6 328.5L322.5 320.5L322.4 318.5L324 317.2L326 316.7L328 316.8L331.1 318.5L332.1 320.5L332 326.8L332.7 328.5L336 330.5L341.7 330.5L350 328.3L354.4 326.5L358 326.2L361.1 328.5L362.2 330.5L363.7 336.5L366 338.1L372 339.7L374 341.2L378 346L380 347.5L382 347.7L384 347.2L388 344.9L390 344.3L401.3 348.5L402.3 350.5L402 352.5L397.6 362.5L396 364.5L389.4 366.5L386.2 370.5L385.8 372.5L394 376.1L396.3 380.5L398 381.9L400 382.5L406 382.3L408 382.9L410 384.5L411.5 386.5L412.8 390.5L411 396.5L412 399L418 403.2L420 403.7L426 403.8L428.3 404.5L429.7 406.5L430.2 408.5L432 409.2L438 408.6L450 402.7L462 402.7L464 403.1L465.8 404.5L468 410.2L470 411.9L474 412.9L478 412.9L480 412.3L482.7 410.5L484.5 408.5L488.1 402.5L492.2 398.5L502.8 392.5L506 391.3L508 391.9L510.6 396.5L512.8 398.5L522 403.1L527.9 410.5L534.6 416.5L536.2 420.5L538 422.9L540.9 424.5L546 426.2L550 426.5L561.2 424.5L570 421.1L574.2 416.5L576 415.5L590 412.5L592 412.7L593.3 414.5L594.1 418.5L595.4 420.5L598 422L600 422.5L610 422.1L614 421L616 418.7L618.2 414.5L622 412.7L624 412.7L632 415.1L638 413.1L642 412.9L658 420.7L666 425.6L674 428.4L682.1 432.5L700 438.3L704 439L710.6 438.5L715.7 436.5L716.4 434.5L715.7 430.5L716.8 428.5L726.3 422.5L727.9 420.5L729.3 412.5L732 406.7L734.7 398.5L736 397.4L738 397.3L740 398.2L746 404.9L754 404.7L760 405.6L762 405.4L764.2 404.5L766 401.6L768.6 384.5L770 346.5L770.4 344.5L771.7 342.5L774 342L774 550.5L311.6 550.5L312.5 546.5L312.3 540.5L314.5 532.5L314.8 522.5L316.3 514.5L316 504.1L314 501L306 500.8L298 501.4L294.2 500.5L290 498.5L292 496.7L296 496.8L298 495.8L305.4 488.5L306.8 486.5L308.2 482.5L310 480.2L312 481.9L314 485.4L316 491.8L318 492.6L320 490.6L324 479.2L328.4 462.5L328.7 460.5L328 458.5L326 457.2L322 456.1L312 454.5L310 455.1L304 468.6L294.1 476.5L292 482.3L290.1 484.5L288 484.4L287.1 482.5L287 480.5L291.3 466.5L292.3 460.5L292 458.5L290.9 456.5L288.7 454.5L281.5 450.5L280.1 448.5L279.5 444.5L276.6 442.5L268 440.4L266 440.5L266.9 444.5L266.6 446.5L262 454.6L260 456.3L248 461L242 460L240 460.6L238 462.7L231.9 474.5L231.7 486.5L230.4 492.5L232 499.2L234 501.7L236 502.4L238 502.3L246 499.1L252 500.5L262 500.2L264 499.7L265.5 496.5L268 495.2L278 496.2L281.2 498.5L281.3 500.5L277.4 504.5L276.2 506.5L276.6 508.5L279.3 512.5L279.7 514.5L279.3 516.5L278 518.9L272.6 524.5L271.7 526.5L272.9 530.5L276 535.1L279.4 538.5L279.7 540.5L278.5 542.5L272.8 548.5L272.3 550.5L269.1 550.5L268.9 548.5L267.8 546.5L263.5 540.5L263.1 536.5L266.6 528.5L266.4 526.5L264 522.1L262 521.3L258 521.7L252 520.3L248 520.2L240 523.5L232 523.8L228 524.7L226 525.7L225.9 520.5L223.8 518.5L223.7 514.5L221.5 512.5L221.4 508.5L219.4 506.5L219.4 502.5L217.3 500.5L217.2 496.5L219.3 494.5L219.2 490.5L221.3 488.5L221.1 484.5L223 482.5L222.3 478.5L224.2 476.5L224 473.8L221.7 476.5L216 480.9L214 482L212 481.4L210.1 478.5L209 472.5L206.6 468.5L202 464.7L198 463.4L190 464.6L185.3 466.5L183 468.5L178.5 474.5L177.2 478.5L178.3 484.5L182.6 498.5L196.4 522.5L198 526.4L199.1 536.5L201.5 544.5L202 550.5L66 550.5L66 315.5L74 317.3L84 317L86.6 318.5L87.7 320.5L87.8 322.5L83.8 330.5L84.4 332.5L86 333.5L88 333.5L90 332.8L100 328L103.7 328.5L110 331.5L112 330.6L113.6 326.5L116 324.5L120 324.3L124.2 326.5L132 336.6L140 339.8L146 343.5L148 343.3L156 336.1L158.4 330.5L160 328.2L162 327.1L168 325.4L169.7 324.5L170.5 322.5L158.1 314.5L157.2 312.5L157 310.5L158.4 302.5L158 296.5L160 294.8ZM324 388.5L316 392.8L310 394L294 398.7L286 406.2L284.6 408.5L283.7 412.5L285 418.5L286 419.9L288.4 420.5L296 417.6L298 417.6L304 419.4L306 419.1L310.1 416.5L316 414.3L320 413.5L326 413.2L332 411.9L334 412.2L340 415.1L344 414.5L350 412.1L351.3 410.5L350.8 406.5L346.7 398.5L345 392.5L344 391.5L342 390.4L332 387.6L328 387.3ZM215.3 414.5L218 414.5ZM224.9 472.5L226.1 472.5L226 471.1ZM119.4 480.5L112.8 482.5L110.5 484.5L110 486.5L111.5 488.5L114 489.7L118 490.3L120 489.9L122 488.6L124.5 484.5L125 482.5L124 480.3L122 480ZM266 502.5L268 502.5Z"/><path id="r27" d="M204 332.5L206 332.1L210.3 336.5L214 337.9L218 337.4L222 335.3L224 334.9L232 334.9L234 335.4L238 339L252 335.4L256 332.1L262 337.3L265.2 338.5L270 339.2L272.8 340.5L276 345.3L278 346.9L280 347.1L282 346.6L288 343.1L290 342.5L300 342.7L302 343.1L306 345.5L308 345.8L316 344.5L318 344.6L326 349L334 350.8L335.1 352.5L335.6 354.5L337.6 374.5L336 375L334 374.8L324 372.1L320 372.3L318.9 374.5L319.5 378.5L319.2 380.5L318 381.8L310.7 386.5L304 388.5L290 388.7L278 386.7L266 388.1L258 387.9L256 388.3L252 390.8L250 391.4L248 391.4L242 389.6L240.1 390.5L239.8 392.5L241.2 396.5L241.3 402.5L242.2 404.5L245.5 406.5L246.8 408.5L244 410.8L242 411.6L237.9 410.5L232 410.4L230 411.1L228.6 412.5L232 413.4L242 412.8L262 423.7L264 424.2L274 423.2L284 426.8L296 427.8L308 430.5L316 431.4L326 435.1L330.5 438.5L334 440.3L342 441.6L347.6 440.5L350.3 438.5L351.4 436.5L351 434.5L345.5 426.5L345.3 424.5L346 422.5L348 421.1L354 420.7L358 419.5L361.8 416.5L362.5 414.5L361.5 408.5L356 398.5L353.2 388.5L348.8 382.5L348.3 380.5L349 378.5L351.1 376.5L356 375.3L360 376.5L362.3 378.5L363.2 380.5L362.8 382.5L360.6 386.5L360.5 388.5L361.5 390.5L364 392.7L370 394.8L376 400.2L378 400.4L380 399.9L388 393.9L390 393.5L396 394.1L398 393.7L402 391.5L402.8 392.5L402.2 398.5L403.6 402.5L422 421.1L424 422.5L430 424.3L432 425.8L433.6 428.5L434.5 432.5L436 433.1L440 431.8L442.1 430.5L444.6 426.5L445.6 420.5L447.5 416.5L450 413.6L452 412.4L454 412.1L457.9 412.5L460 413.3L462 414.6L468 420.7L472 422.4L480 423.2L482 422.5L486 419.5L488 418.7L490 419.1L492.2 420.5L494 424.5L495.8 426.5L500 428.2L503.1 430.5L506 435.9L508 435.9L511.6 432.5L516 430.3L520 429.8L526 430.1L530 430.8L538 434.1L544 435.5L546 436.5L550 439.7L552 440L558 436L564 432.9L566 432.2L572 432.9L578 429.3L582 428.1L590 428L602 430.6L610 431.3L614 430.2L622 425.6L634 423.6L640 420.8L642 420.5L648 421.3L654 423L658 424.9L664 429.2L674 431.4L682 435.3L704 442.5L708 443.1L712 443L726 440.9L734 442.4L736 442.3L739.8 440.5L740.7 438.5L741 434.5L742.2 430.5L744 427.7L746 426.3L748 426.1L754 427.9L764 429.3L766 428.3L766.9 426.5L767.4 422.5L767 416.5L769.1 404.5L769.6 392.5L770.8 382.5L770.7 360.5L771.4 348.5L772 344.6L774 343.5L774 550.5L315.2 550.5L315.9 546.5L315.8 540.5L317.2 534.5L318 524.5L321.1 514.5L320.9 496.5L323.4 490.5L331.6 462.5L332 460.5L331.6 458.5L330 456.4L326 454.1L304 450L282 439.4L268 434.5L262 431L250 428.1L248 428.2L246 429.5L244.4 432.5L242.7 440.5L240.8 446.5L229.4 472.5L228.5 476.5L227.7 486.5L226.4 492.5L226.2 498.5L222.3 512.5L221.9 508.5L219.8 506.5L219.8 502.5L217.8 500.5L217.7 496.5L219.8 494.5L219.7 490.5L221.7 488.5L221.7 484.5L223.7 482.5L223.4 478.5L225.4 476.5L225.3 474.5L227.5 472.5L227.3 470.5L229.4 468.5L229.1 466.5L230.7 464.5L224 461.3L222 461.7L218 468.4L216 468.7L210.7 464.5L203.2 460.5L200 459.6L198 459.7L192 461L184 463.6L178 467.4L172 470.1L170.3 472.5L169.7 474.5L170.2 478.5L176 487.8L181 500.5L194 522.1L196 526.5L195.8 550.5L125.4 550.5L120 544.8L118 543.7L116 543.6L114 544.5L112.8 546.5L112.7 550.5L66 550.5L66 340.8L68 342.8L72 342.7L74 344.6L78 343.9L78.9 344.5L78 346.5L82 346.6L84 348.7L88 348.7L90 350.7L92 350.7L94 352.7L98 352.6L100 354.6L102 354.6L104 356.6L108 356.7L110 358.7L112 358.7L114 360.7L118 360.7L120 362.7L122 362.7L124 364.7L126 364.7L128 366.6L130 366.6L132 368.7L134 368.9L136 371L138 371.1L142 375.2L144 375.3L146 377.4L148 377.6L150 379.7L152 379.7L154 381.3L156 381.1L158 382.7L160 382.7L162 384.7L164 384.9L167.5 388.5L167.8 390.5L170 391.3L172.4 390.5L174.6 388.5L175.4 386.5L175.2 384.5L168 380.5L166 378.5L165.4 376.5L164.7 366.5L163.9 364.5L162 362.6L158.7 360.5L156.7 358.5L156.1 354.5L157 352.5L159.9 350.5L164 349.2L168 348.6L170 349.2L172 351.7L173.2 356.5L174 357.9L176 358.3L182 356.9L190.3 356.5L192 355.1L194 351L196.8 350.5L198 350.7L200.4 352.5L200.9 358.5L202 360.5L206 361.7L210 361.2L214 358.5L215.7 356.5L216.1 354.5L210 349.7L204.8 342.5L203.1 336.5L203.1 334.5ZM228.6 358.5L230 358.9L230.7 358.5L230 357.9ZM212.9 414.5L212 415.7L208.7 416.5L210.3 418.5L211.1 420.5L212.2 426.5L214 429.4L216 429.7L223.3 424.5L225.1 422.5L226 420.5L222 415.4L220 415.3L218 413L214 413.1ZM448.7 440.5L447.6 442.5L447.5 444.5L448 445.5L450 447.1L454 448.1L455 446.5L455.1 444.5L454 440.8L452 439L450 439.3ZM74.7 470.5L70.6 472.5L68.9 474.5L69 476.5L74 481.6L76 483L80 484.3L88 482.8L92 483.3L97.5 488.5L102 491.6L106.7 498.5L110 500.8L112 501L118 499.2L120 499.4L126 502L128 501.9L130 500.8L131.7 498.5L132.2 492.5L134.2 486.5L134.3 482.5L133.4 478.5L130.9 472.5L130 470.9L128 469.8L124 470.5L118 473.5L114 473.7L108 472.1L106 472.2L94 475.9L90 476.5L86 475.5L78 470.9ZM340 376.8L342 378.4L342 379.7L340 378.9ZM252 396L254 395.8L256 397L257 398.5L257.1 400.5L256.2 402.5L254 404.2L252 404.2L250.5 402.5L250 401.2L250 398.5Z"/><path id="r28" d="M66.9 342.5L68 343.6L72 343.5L74 345.5L76 345.4L78 347.4L82 347.5L84 349.6L88 349.7L90 351.7L92 351.6L94 353.7L98 353.6L100 355.5L102 355.3L104 357.2L108 357.2L110 359.3L112 359.4L114 361.4L118 361.6L120 363.4L122 363.4L124 365.3L126 365.3L128 367.4L130 367.6L132 369.9L134 370.1L136 372.1L138 372.3L142.5 376.5L141.3 380.5L142.1 382.5L145 386.5L145.1 388.5L143.1 394.5L142.4 396.5L138 400L134 404.7L130 412.5L127.7 420.5L128 426.5L129.1 428.5L131.2 430.5L136 432.5L138 431.7L138.5 428.5L138.4 422.5L139.3 420.5L152 411.3L156.6 402.5L158 401.2L162 399.1L165.1 394.5L168 392.9L172 395.4L177.5 400.5L177.4 402.5L190 414.9L196 414.9L198 416.9L202 417L204.7 416.5L206 414.7L206.2 416.5L205.4 418.5L207.9 422.5L211.7 434.5L211.3 438.5L209 442.5L208.7 444.5L210 445.4L212 444.3L213.7 442.5L216.3 436.5L220 432.3L224 430.7L228 431.1L228.9 430.5L230.3 424.5L236 422.9L238 423.2L240.7 424.5L241.8 426.5L239.5 434.5L238 442.5L234 452.2L235 454.5L234.9 456.5L233.1 458.5L232.7 460.5L232 461.5L230 461.2L225.8 458.5L223.6 456.5L222 453.2L220 451.1L216 451.4L212 453.4L208 456.8L206 456.9L200 455.9L196 456.5L178 462L170 463.3L166 465.6L164 465.8L160 464.2L156 464.7L153.2 466.5L150 472.6L144 477.6L142 478.5L140 477.2L138.5 474.5L135.8 466.5L134 464L132 463L124 463.2L116 465.8L108 465.6L94 470.1L90 471L86 470.5L76 465.3L72 464L66 464.5L66 341.6ZM95.4 360.5L94.7 362.5L95 364.5L96 367.3L98 369.2L99.1 362.5L98 359.9L96 359.8ZM774 348.6L774 370.6L773 360.5L773.3 352.5ZM288 375.2L290 374.6L292 376L292.3 378.5L291.2 380.5L288 381.6L285.7 380.5L285.1 378.5L286 376.7ZM190 385.9L196 385.6L198 385.9L200 387L201.5 388.5L204 393L206.8 396.5L206.1 398.5L196 401.2L194 399.8L186.6 390.5L186.5 388.5L188 386.6ZM774 386.4L774 399.8L772.7 392.5ZM388 415.7L390 414.7L392 414.6L394 415.3L396 417.3L397.6 420.5L398.2 422.5L398 423.8L396.1 426.5L390 432.8L386.1 434.5L384 434.5L382 433.9L380.1 432.5L379.3 430.5L379.3 428.5L382.1 422.5ZM644 426.1L650 426.2L654 427.7L656.9 430.5L660 435.3L662 436.6L666 437.1L670 435.9L674 436.1L708 448L722 446.5L734 447.6L746 446.9L752 447.8L760 445.8L768 445L770 446.5L770.9 448.5L774 449.6L774 550.5L761.1 550.5L760 548.1L758 546.4L756 546.9L755.4 550.5L653.8 550.5L652.8 548.5L650 546.5L642 545.3L640.9 544.5L642.3 538.5L642 536.5L640 532.6L638 530.2L636 529.2L626 536.4L618 539.9L616 539.6L612 537L608 531.7L606 530.8L604 531.1L602 532.7L600.7 536.5L601 540.5L603.2 544.5L603.2 546.5L602 550.5L338.2 550.5L338.8 544.5L340.3 540.5L342.4 538.5L350.2 534.5L354.3 530.5L355.3 526.5L355.6 518.5L354.7 516.5L354 516.2L350 517.2L344 515.3L342 515.2L337.8 516.5L334.8 518.5L334.1 520.5L334 527.6L330 528.2L324 532.5L322 531.7L321.8 528.5L322.6 526.5L324 524.8L329.4 520.5L331.1 518.5L331.6 516.5L332.3 506.5L334.7 500.5L335 498.5L334 496.4L333.3 492.5L330.7 486.5L330.6 484.5L333 478.5L332.8 474.5L334 470.6L336 469.9L338 470.5L342 473.7L348 473.8L350 475.8L352 479.3L354 478.8L356 476.6L358 472.7L360 470.2L366.4 468.5L371 464.5L372.7 462.5L372 460.5L369.9 458.5L370.1 456.5L375.7 454.5L378 454.1L380 454.4L386 458.7L392 459.6L396 458.2L404 452.5L404.5 454.5L404.1 458.5L405.5 460.5L408 461.2L409.9 458.5L410 455.1L408 453.3L404 452.5L404.6 442.5L403.2 438.5L403.2 436.5L406 433L410 430.6L412 430.2L414 431L414.7 432.5L414.7 438.5L416 440.2L422 442.2L426.2 444.5L427.1 446.5L425.2 450.5L425.1 452.5L428 459.2L430.3 462.5L438 466.5L442 467.8L450 467.1L460 468.2L465.3 470.5L468 472.8L470 471.6L471.3 468.5L474 466L486 464.9L488 464.3L490 462.6L494 456.2L496 454.3L498 454.9L500 457L504.9 470.5L507.8 472.5L510 472.9L512 472.7L517.7 468.5L522.1 466.5L524.3 464.5L526.4 460.5L528.1 458.5L532 455.5L538 453.8L546 454.6L550 454L556 451.6L562 446.4L566 446.5L572 449.1L580 458L582 459.6L584 460.1L585.6 458.5L585.7 456.5L583.7 450.5L585 440.5L586 438.4L588 437.4L590 437.4L596 440.5L598 440.3L602 438.4L612 437.6L616 436.5L624 432.9L634 431.6ZM373.2 464.5L375.2 472.5L375.2 474.5L371.9 480.5L371.8 486.5L371 488.5L368.3 492.5L363.2 496.5L362.5 498.5L364.5 508.5L366 510L368 510.2L374 508.4L376.7 506.5L381.4 500.5L382 498.5L381.7 494.5L386.5 488.5L386.7 486.5L384.3 482.5L383.7 480.5L384 479.2L386 479L392 484.5L394 484.9L408 485.2L414 484.2L416.6 482.5L416.9 480.5L416.2 478.5L412 474.2L402 473.2L394 469.7L392 469.7L386 471.8L384.7 470.5L383.7 466.5L382 463.9L380 463.1L376 463.1L374 463.6ZM429.1 490.5L427.4 492.5L429.3 494.5L432 494.4L433.6 492.5L432 490.4ZM581.2 534.5L578 538.5L580.7 540.5L590 543.3L594 542.6L595.5 540.5L595 538.5L593.2 536.5L590 534.4L584 533.2ZM734 538.5L733 540.5L733.4 542.5L736 545.2L738 544.9L740.6 542.5L740.3 540.5L738 538.4L736 538.1ZM294 436.2L296 435.5L302 435.5L316 437.9L320 440.2L321.8 442.5L322.2 444.5L321.7 446.5L320 448.6L316 449.3L306 447L301.5 444.5ZM484 438.9L486 438.8L488.9 440.5L490.4 442.5L491.5 446.5L491.2 448.5L488 450.6L486.4 452.5L484 458.9L482 460.5L480 459.7L478 457.4L477 454.5L476.7 450.5L478 447.2L482.4 440.5ZM346 451.1L350 450.9L354 451.6L356.1 452.5L357.6 454.5L358.3 456.5L358.7 460.5L357.5 464.5L356 465.7L354 465.8L352 465L349.4 462.5L344 452.5ZM158 478.2L162 477.4L164 478.1L170.8 486.5L174 491.2L177.1 498.5L190 520.5L191.2 524.5L191 526.5L190 528L188.6 528.5L187.5 530.5L189.2 534.5L189.5 536.5L188.2 542.5L188.3 546.5L190.7 550.5L182.8 550.5L180.7 548.5L179.7 546.5L184.2 540.5L184.3 538.5L183.8 536.5L182 534.2L174 533.9L168 531.1L160 528.6L157.9 528.5L154 529.9L152 529.1L150.2 526.5L147.9 524.5L144 522.7L136 522L128 520.1L126 520.6L120 524.5L114 525.8L109 530.5L106 531.9L104 531.9L96 529.6L94 528.9L92 526.8L89.3 520.5L90.9 518.5L96 517.7L100 518.5L104 520.1L106 520L111.1 516.5L120 511.9L124 511.3L130 513.3L132 513.3L138 510.4L140 508.4L144.8 500.5L146.7 492.5L150.5 486.5L153.2 480.5L156 478.6ZM70 489.4L72 489.6L73.5 490.5L78 495.1L86 496.8L88.3 498.5L92 503L92.8 504.5L92.5 508.5L88.7 514.5L87.1 518.5L82 520.7L78 521.7L70 520.9L66 521.1L66 491.9ZM140 547.1L142 546.9L143.7 548.5L144.4 550.5L138.3 550.5L138.8 548.5ZM170 548.3L172 547.6L176 547.6L177.9 548.5L177.9 550.5L168.5 550.5Z"/><path id="r29" d="M66.2 342.5L68 344.3L72 344.4L74 346.4L76 346.3L78 348.4L82 348.4L84 350.5L84.8 350.5L85.9 356.5L86 362.7L86.9 364.5L91.8 370.5L96 374.2L98 374.7L100 374.3L102.7 372.5L103.8 370.5L103.5 368.5L102 365.1L101.1 360.5L99.1 356.5L102 355.9L104 357.8L108 357.8L110 359.9L112 360L114 362.1L118 362.4L120 364.1L122 364.1L124 365.9L126 365.9L128 368.2L129.8 368.5L128.1 374.5L133.7 382.5L134.6 386.5L133.5 390.5L132 393.5L128 398.5L126 400.4L124 401.5L120 401.3L112 396.6L106 395L102 395.5L98 399.3L96 400.2L80 397.6L75.8 398.5L73.2 400.5L72.3 402.5L72 404.5L72.9 414.5L71.4 424.5L69.8 426.5L66 428.6ZM71.8 348.5L70.8 350.5L70.7 352.5L71.6 356.5L74 361.1L76 361L76.9 358.5L77.4 352.5L76 349.8L74 348.6ZM174 398.4L176.2 400.5L176.4 402.5L190 415.6L196 415.9L198 418L200.6 418.5L204 422.5L207.9 432.5L208 434.5L207.3 436.5L197.4 450.5L195.3 452.5L188 455.7L182 457.3L176 457.3L166 456.6L164 456.1L156 450.7L154 449.9L150 449.4L148.5 448.5L146.9 444.5L147.5 436.5L144.7 428.5L145.7 424.5L150 419.6L158.8 412.5L160.2 406.5L162 404.8L170 399.3ZM94 434.1L96 433.4L98 434L99.4 436.5L99.2 438.5L96.9 442.5L97 444.5L99.5 448.5L99.6 450.5L98 452.1L96.7 452.5L92 453L90 452.5L94.3 444.5L94.3 442.5L92.6 438.5L92.4 436.5ZM110 435.6L112 434.9L114 435.2L116 436.2L117.8 438.5L118 440.8L114 443.6L112 443.1L108.9 438.5L109 436.5ZM230 437.7L230 442.2L228.1 438.5ZM232 442.4L232 443.4L230.6 442.5ZM110 448.2L112 446.7L112.8 448.5L112.2 452.5L110.9 454.5L105.4 458.5L102 459.1L101.1 458.5L100.9 456.5L102 454.3ZM672 450.3L686 449.2L698 450.3L702 452L706 455.5L708 456.5L710 456.4L718 452L722 451.3L734 452.6L742 454.1L760 452.9L768 454.2L774 454L774 487.4L768 484.8L766 484.2L765.3 484.5L763.9 486.5L764.3 494.5L762.9 498.5L764 500.6L766 501.1L767.9 500.5L770.1 496.5L774 493.5L774 500.8L770.1 502.5L770.1 504.5L772 506.2L774 506.8L774 528.1L772 527.7L770 526.3L762 517.5L756.6 512.5L755.3 510.5L753.8 504.5L754 502.3L756.1 496.5L756.4 488.5L756 486.4L754 482.5L752 481.4L746 483.7L744 483.9L742 483.6L734 480.3L728 479.6L727 480.5L728.9 490.5L732.7 498.5L733.3 502.5L732 508.7L728 517.2L726 519.5L722 520.4L721.5 522.5L719.5 524.5L718 525.1L714 525.6L708 524L706 524L700 527.7L698 528.3L691.7 528.5L686 532.2L684 532.9L679.7 532.5L678 530.8L677 528.5L676.5 524.5L678 516L664 514.8L654 512.9L652 511.4L648 505.7L646 504.9L644 506.3L640.2 510.5L638 511.4L628 513.2L624 513.3L621.5 512.5L618.9 510.5L614 505L610.7 504.5L609.5 500.5L603.9 496.5L603.6 494.5L607.8 490.5L608 483.9L609.2 482.5L614 479.7L617.9 476.5L620.8 472.5L621 468.5L618.5 460.5L619 458.5L620 457.6L622 457.1L630 458.2L644 464.8L646 465.4L648 465.2L651.8 462.5L656 457.7L662 453.7L666 451.6ZM681.2 480.5L679.7 482.5L678.6 486.5L679.2 488.5L682.1 492.5L682 494.5L679.2 500.5L680 504.1L682 507.7L684 507.9L691.2 504.5L693.6 502.5L694.6 498.5L696 497.8L704 496.5L708 494.5L708.7 492.5L708 490.5L704 484.7L702 483.4L700 483.1L694 484.7L692 484.6L690 483.1L688 479.8L686 478.6L684 478.8ZM648.3 488.5L647.5 490.5L648 493.8L650 493.8L652 492.7L653.4 490.5L653.2 488.5L652 487.2L650 487.1ZM613 494.5L613.2 498.5L614 499.8L616 498.7L616.2 496.5L614 494.1ZM542 472.3L546 471.3L548 471.6L549.6 472.5L550.9 474.5L550.6 476.5L548 478.6L545.7 478.5L543.1 476.5L541.3 472.5ZM572 474.1L574 474.8L575 476.5L576.4 480.5L576.8 484.5L575.4 490.5L574 492.3L572 492.6L570 490.7L566 483.6L562.9 480.5L564.2 478.5ZM494 482.3L498 482.7L502 485L510 487.3L511.5 488.5L512.5 490.5L513.2 496.5L516 501.1L518 501.7L522 501.5L524.1 502.5L524.9 504.5L526 516.6L528 519L534.5 520.5L534.3 522.5L532.5 524.5L530 525.5L528 525.5L524 520.9L520 519.1L510 512.7L504 506.7L500 500.5L493.3 494.5L489.8 490.5L489 488.5L489.2 486.5L490 484.9L492 483.1ZM160 486.3L162 486.2L166 489.1L168.3 492.5L172.2 500.5L178 506.5L181.7 514.5L182.6 518.5L182 519.8L179.7 522.5L176.5 524.5L172 524.4L166 522.8L164 521.8L162.4 520.5L159.1 514.5L154.6 510.5L153.3 508.5L153.1 506.5L154.6 500.5L154.9 494.5L156.7 490.5ZM604 507.7L606 507L608 508.5L606.8 512.5L606 513.5L604 514.1L601 512.5L601 510.5ZM480 516L488 516.1L498 517.6L504 521.6L509.5 526.5L510 528.5L508 532.5L506 535.1L498 535.9L494 538.5L493.1 540.5L492.8 544.5L491 550.5L458.4 550.5L464.7 544.5L467.2 540.5L468.8 532.5L472 523.5L478 517.1ZM442 538.4L444 538.7L446.7 540.5L447.9 542.5L449.4 548.5L450.6 550.5L447.1 550.5L446 548.5L444 547.3L440 546.3L438 546.7L436.4 548.5L435.9 550.5L424.7 550.5L426 547.3L428 545.2L434 543.4L440 538.8ZM770 544.2L774 545.1L774 550.5L771.8 550.5L769.1 544.5Z"/><path id="r30" d="M104 358.4L108 358.4L110 360.4L110.6 360.5L111.7 364.5L112.8 366.5L114 367.5L118 369L119.9 370.5L120 372.5L120.9 374.5L128.1 382.5L128.6 384.5L128.1 386.5L126 388.9L122 391.2L120 391.3L114 389.5L108 388.4L102 385.8L98 384.6L94 385.3L90 388.1L88 387.6L84 384.6L80 384.1L74 385.5L72 387.4L68.6 392.5L66 393.8L66 358.5L69.5 364.5L72 367.3L76 369L80 369L84 370.1L87.8 372.5L94 377.9L96 378.8L98 378.9L102 377.6L106 375.1L108 372.5L108.6 370.5L108.5 368.5L104.9 362.5L103.6 358.5ZM166 410.3L168 409.4L172 409.5L178 408.5L182.4 410.5L186 412.5L190 416.4L192.6 416.5L196.1 420.5L202 429.4L203.2 432.5L202.7 434.5L195.3 442.5L189.3 450.5L186.1 452.5L182 453L174 450.4L166 449L165 448.5L163.7 446.5L160.2 438.5L159.7 432.5L157.9 424.5L158.3 422.5L163 416.5ZM680 458.3L691.7 458.5L694.7 460.5L694.9 462.5L692.8 466.5L690.2 468.5L682 471.4L676 472.2L672 474.6L670 474.6L667.9 472.5L668.8 470.5L672 468.6L673.7 462.5L674.9 460.5L678 458.6ZM726 458.3L730.8 458.5L733.5 460.5L733.6 462.5L732 463.2L730 463.2L724 461.2L720 461.2L719.6 460.5ZM748 460.5L758 458.9L762.6 460.5L766 463.2L770 460L774 458.9L774 481.1L771.7 480.5L764 476.2L760 475.7L754 472.6L750 471.7L744 472L742 471.6L740.2 470.5L738.9 468.5L738.6 466.5L739.5 464.5L742.2 462.5Z"/></defs>
<use href="#r3" fill="#00cdfc"/>
<use href="#r4" fill="#00cdfc"/>
<use href="#r5" fill="#08f2ff"/>
<use href="#r6" fill="#26faff"/>
<use href="#r7" fill="#46fcff"/>
<use href="#r8" fill="#69fdff"/>
<use href="#r9" fill="#8effff"/>
<use href="#r10" fill="#82ffd4"/>
<use href="#r11" fill="#64ffa6"/>
<use href="#r12" fill="#42fa72"/>
<use href="#r13" fill="#1cf63a"/>
<use href="#r14" fill="#05fa12"/>
<use href="#r15" fill="#3aff04"/>
<use href="#r16" fill="#64ff04"/>
<use href="#r17" fill="#91ff00"/>
<use href="#r18" fill="#b6ff00"/>
<use href="#r19" fill="#caff00"/>
<use href="#r20" fill="#d8ff00"/>
<use href="#r21" fill="#e3ff00"/>
<use href="#r22" fill="#edff00"/>
<use href="#r23" fill="#f7ff04"/>
<use href="#r24" fill="#fffd00"/>
<use href="#r25" fill="#ffed00"/>
<use href="#r26" fill="#ffd900"/>
<use href="#r27" fill="#ffc000"/>
<use href="#r28" fill="#ffa700"/>
<use href="#r29" fill="#ff9600"/>
<use href="#r30" fill="#ff7e00"/>
<g fill="none" stroke="#222" stroke-width="0.55" stroke-dasharray="3 3"><use href="#r21"/><use href="#r23"/><use href="#r25"/><use href="#r27"/><use href="#r29"/></g>
<mask id="lm" maskUnits="userSpaceOnUse" x="60" y="80" width="720" height="480"><rect x="60" y="80" width="720" height="480" fill="#fff"/><rect x="436.2" y="123.5" width="13.5" height="15" fill="#000" transform="rotate(0 443 131)"/><rect x="306.2" y="178.5" width="13.5" height="15" fill="#000" transform="rotate(-25 313 186)"/><rect x="348.2" y="175.5" width="13.5" height="15" fill="#000" transform="rotate(10 355 183)"/><rect x="480.2" y="143.5" width="13.5" height="15" fill="#000" transform="rotate(30 487 151)"/><rect x="518.5" y="126.5" width="25" height="15" fill="#000" transform="rotate(10 531 134)"/><rect x="391.5" y="175.5" width="25" height="15" fill="#000" transform="rotate(-35 404 183)"/><rect x="565.5" y="138.5" width="25" height="15" fill="#000" transform="rotate(15 578 146)"/><rect x="608.5" y="165.5" width="25" height="15" fill="#000" transform="rotate(0 621 173)"/><rect x="435.5" y="185.5" width="25" height="15" fill="#000" transform="rotate(-78 448 193)"/><rect x="478.5" y="202.5" width="25" height="15" fill="#000" transform="rotate(-65 491 210)"/><rect x="524.5" y="214.5" width="25" height="15" fill="#000" transform="rotate(5 537 222)"/><rect x="314.5" y="225.5" width="25" height="15" fill="#000" transform="rotate(-78 327 233)"/><rect x="358.5" y="236.5" width="25" height="15" fill="#000" transform="rotate(-30 371 244)"/><rect x="588.5" y="274.5" width="25" height="15" fill="#000" transform="rotate(30 601 282)"/><rect x="232.5" y="246.5" width="25" height="15" fill="#000" transform="rotate(3 245 254)"/><rect x="455.5" y="266.5" width="25" height="15" fill="#000" transform="rotate(-78 468 274)"/><rect x="584.5" y="342.5" width="25" height="15" fill="#000" transform="rotate(-42 597 350)"/><rect x="300.5" y="270.5" width="25" height="15" fill="#000" transform="rotate(10 313 278)"/><rect x="253.5" y="286.5" width="25" height="15" fill="#000" transform="rotate(12 266 294)"/><rect x="533.5" y="371.5" width="25" height="15" fill="#000" transform="rotate(-4 546 379)"/><rect x="323.5" y="317.5" width="25" height="15" fill="#000" transform="rotate(30 336 325)"/><rect x="179.5" y="314.5" width="25" height="15" fill="#000" transform="rotate(5 192 322)"/><rect x="137.5" y="404.5" width="25" height="15" fill="#000" transform="rotate(0 150 412)"/><rect x="224.5" y="397.5" width="25" height="15" fill="#000" transform="rotate(-15 237 405)"/><rect x="419.5" y="445.5" width="25" height="15" fill="#000" transform="rotate(32 432 453)"/><rect x="192.5" y="467.5" width="25" height="15" fill="#000" transform="rotate(-62 205 475)"/></mask>
<g fill="none" stroke="#111" stroke-width="0.7" mask="url(#lm)"><use href="#r6"/><use href="#r8"/><use href="#r10"/><use href="#r12"/><use href="#r14"/><use href="#r16"/><use href="#r18"/><use href="#r20"/><use href="#r22"/><use href="#r24"/><use href="#r26"/><use href="#r28"/><use href="#r30"/></g>
<text x="443" y="137.8" transform="rotate(0 443 131)" font-size="19" text-anchor="middle" fill="#000" stroke="#000" stroke-width="0.25">6</text>
<text x="313" y="192.8" transform="rotate(-25 313 186)" font-size="19" text-anchor="middle" fill="#000" stroke="#000" stroke-width="0.25">6</text>
<text x="355" y="189.8" transform="rotate(10 355 183)" font-size="19" text-anchor="middle" fill="#000" stroke="#000" stroke-width="0.25">8</text>
<text x="487" y="157.8" transform="rotate(30 487 151)" font-size="19" text-anchor="middle" fill="#000" stroke="#000" stroke-width="0.25">8</text>
<text x="531" y="140.8" transform="rotate(10 531 134)" font-size="19" text-anchor="middle" fill="#000" stroke="#000" stroke-width="0.25">10</text>
<text x="404" y="189.8" transform="rotate(-35 404 183)" font-size="19" text-anchor="middle" fill="#000" stroke="#000" stroke-width="0.25">12</text>
<text x="578" y="152.8" transform="rotate(15 578 146)" font-size="19" text-anchor="middle" fill="#000" stroke="#000" stroke-width="0.25">12</text>
<text x="621" y="179.8" transform="rotate(0 621 173)" font-size="19" text-anchor="middle" fill="#000" stroke="#000" stroke-width="0.25">14</text>
<text x="448" y="199.8" transform="rotate(-78 448 193)" font-size="19" text-anchor="middle" fill="#000" stroke="#000" stroke-width="0.25">16</text>
<text x="491" y="216.8" transform="rotate(-65 491 210)" font-size="19" text-anchor="middle" fill="#000" stroke="#000" stroke-width="0.25">18</text>
<text x="537" y="228.8" transform="rotate(5 537 222)" font-size="19" text-anchor="middle" fill="#000" stroke="#000" stroke-width="0.25">18</text>
<text x="327" y="239.8" transform="rotate(-78 327 233)" font-size="19" text-anchor="middle" fill="#000" stroke="#000" stroke-width="0.25">20</text>
<text x="371" y="250.8" transform="rotate(-30 371 244)" font-size="19" text-anchor="middle" fill="#000" stroke="#000" stroke-width="0.25">20</text>
<text x="601" y="288.8" transform="rotate(30 601 282)" font-size="19" text-anchor="middle" fill="#000" stroke="#000" stroke-width="0.25">20</text>
<text x="245" y="260.8" transform="rotate(3 245 254)" font-size="19" text-anchor="middle" fill="#000" stroke="#000" stroke-width="0.25">22</text>
<text x="468" y="280.8" transform="rotate(-78 468 274)" font-size="19" text-anchor="middle" fill="#000" stroke="#000" stroke-width="0.25">22</text>
<text x="597" y="356.8" transform="rotate(-42 597 350)" font-size="19" text-anchor="middle" fill="#000" stroke="#000" stroke-width="0.25">22</text>
<text x="313" y="284.8" transform="rotate(10 313 278)" font-size="19" text-anchor="middle" fill="#000" stroke="#000" stroke-width="0.25">24</text>
<text x="266" y="300.8" transform="rotate(12 266 294)" font-size="19" text-anchor="middle" fill="#000" stroke="#000" stroke-width="0.25">24</text>
<text x="546" y="385.8" transform="rotate(-4 546 379)" font-size="19" text-anchor="middle" fill="#000" stroke="#000" stroke-width="0.25">24</text>
<text x="336" y="331.8" transform="rotate(30 336 325)" font-size="19" text-anchor="middle" fill="#000" stroke="#000" stroke-width="0.25">26</text>
<text x="192" y="328.8" transform="rotate(5 192 322)" font-size="19" text-anchor="middle" fill="#000" stroke="#000" stroke-width="0.25">26</text>
<text x="150" y="418.8" transform="rotate(0 150 412)" font-size="19" text-anchor="middle" fill="#000" stroke="#000" stroke-width="0.25">28</text>
<text x="237" y="411.8" transform="rotate(-15 237 405)" font-size="19" text-anchor="middle" fill="#000" stroke="#000" stroke-width="0.25">28</text>
<text x="432" y="459.8" transform="rotate(32 432 453)" font-size="19" text-anchor="middle" fill="#000" stroke="#000" stroke-width="0.25">28</text>
<text x="205" y="481.8" transform="rotate(-62 205 475)" font-size="19" text-anchor="middle" fill="#000" stroke="#000" stroke-width="0.25">24</text>
<path d="M70 88.3L192.5 88.3L193.2 92.5L195.3 98.1L194.6 104.4L196 109.3L200.2 112.8L203.7 117L206.5 119.1L210.7 119.8L214.9 117.7L218.4 117L219.1 113.5L220.5 110L217.7 105.1L217 100.2L214.2 96L217.7 93.2L222.6 91.8L224 88.3L357 88.3L357 92.5L362.6 93.2L366.8 95.3L364.7 97.1L358.4 98.4L351.4 99.8L347.9 101.2L351.4 102.7L357.7 101.2L364 99.8L368.9 100.2L371 101.9L375.2 103.7L378.7 106.5L379.4 110L380.4 112.8L377.3 114.9L372.4 117L366.8 117.7L361.2 118.8L357.7 121.2L352.8 124.7L347.9 126.1L339.5 126.4L332.5 125.4L324.8 125.4L317.8 125.4L310.8 125.4L304.5 126.1L301 129.6L296.8 132.4L291.2 133.8L287 136.6L282.8 140.1L280 143.6L275.8 147.1L271.6 149.6L275.1 148.5L279.3 145.7L283.5 142.2L289.8 138.7L295.4 135.9L302.4 134.2L309.4 132.8L315.7 133.1L320.2 135.2L319.9 138L313.6 140.8L306.6 140.8L309.4 142.6L315 142.9L316.4 145.7L314.3 149.2L317.1 152.7L321.3 154.8L324.8 155.8L330.4 157.2L336 156.6L339.5 157.6L339.5 154.8L342.3 151.3L345.8 148.5L347.6 149.9L347.2 153.4L351.1 155.2L350.3 157.2L345.8 158.7L342.3 160.4L337.4 161.8L331.1 163.6L325.5 165.3L320.6 167.4L316.4 170.6L312.2 172.7L308.7 172.3L306.9 170.2L306.9 167.1L309.4 165.3L314.3 162.8L318.5 160.8L322 160.1L319.2 159.3L316.4 158.7L317.8 156.9L314.3 159L308.7 161.1L303.8 161.8L300.3 162.2L300.3 164.6L296.1 166L291.9 167.4L287.7 167.1L285.6 169.5L280.7 170.9L277.9 172.3L275.4 175.8L274.4 178.2L273.7 180.7L275.4 182.8L276.5 184.9L279.7 184.9L279.7 183.2L278.6 182.8L280.3 183.8L280.3 185.9L277.2 186.3L273.7 186.7L270.9 187L269.5 188.1L265.3 188.4L259.7 188.8L255.5 190.5L253.1 191.9L251.3 192.9L252 194.7L251.7 197.5L249.9 201L247.1 203.4L245.3 204.8L244.3 202.8L241.5 200.7L241.8 203.1L244.3 205.9L244.7 208.7L242.2 212.2L240.1 215L238.3 217.4L238.7 214.3L238 210.1L236.6 205.9L237.3 201.7L235.2 202.8L234.5 206.6L235.6 210.1L235.9 214.3L235.2 217.8L238 219.2L239.1 222.7L241.2 226.9L241.5 230.8L238 232.2L234.5 235L229.6 235.3L225.4 238.8L224 240.5L219.8 240.5L215.6 245.1L210.7 248.6L205.8 251.4L203 254.9L200.9 260.5L200.2 265.4L201.2 269.6L203.3 274.5L206.2 278.4L207.2 283.6L209.3 288.5L209.7 292.7L208.9 297.6L207.2 301.1L202.3 301.5L198.8 296.9L195.3 292.7L192.5 289.2L189.7 285L189 280.8L189.7 275.9L186.9 273.1L184.1 268.9L182 266.8L178.5 268.2L173.6 269.6L171.5 267.5L165.9 264.7L158.9 265.4L154 264L148.4 264.7L143.5 266.1L142.1 268.2L144.2 270.3L147 273.1L144.9 274.9L142.1 272.4L138.6 273.8L133.7 273.8L129.5 271.7L124.6 270.6L119 269.2L112.7 269.6L107.1 271.7L102.9 275.2L96.6 278L91 282.2L88.2 287.1L88.9 293.4L89.6 298.3L86.8 303.9L85.4 310.9L85.4 320L87.5 325.6L89.6 331.2L93.1 337.5L95.9 341.7L98 344.5L100.8 346.6L105 347.6L108.5 350.5L113.4 349L119 348.4L123.9 347L128.1 347.3L130.9 345.2L134.4 342.4L136.2 338.2L136.8 333.3L137.9 330.5L142.8 328.4L148.4 327.4L154 326.3L158.9 326.6L162.1 328L162.4 331.2L159.6 334.7L157.8 338.2L157.2 342.4L155.4 346.6L154.7 350.1L152.9 348L152.6 352.2L152.2 356.4L151.9 360.6L149.8 364.1L147.7 366.2L150.5 367.2L154 367.2L157.5 366.6L162.4 366.9L166.6 366.2L169.4 365.5L173.6 366.2L178.5 366.6L182.7 369L186.2 370.8L187.9 372.5L186.9 376.7L185.5 382.3L185.2 387.9L184.4 393.5L183.8 398.4L184.4 401.9L186.9 405.4L189.7 408.2L192.5 411L194.6 413.4L198.1 414.5L201.6 415.9L205.1 414.1L209.3 412.4L212.8 410.6L216.3 411L220.5 411.7L224.7 414.5L228.2 416.9L230.3 420.1L232.1 421.9L232.8 418L235.2 415.2L239.4 411.7L240.8 407.5L241.8 404L245 401.2L249.2 400.1L254.8 398.4L259.7 395.9L264.6 393.1L268.4 390.4L271.6 392.1L268.8 395.2L266.3 398.4L268.8 400.9L272.3 399.8L277.2 397.7L278.2 394.2L280.3 392.1L281.8 395.6L284.2 397.4L289.1 398.4L291.9 401.6L294 404L301 403.3L307.3 403.3L310.1 406.1L316.4 406.8L319.9 404.4L324.1 402.9L330.4 402.6L336.7 402.5L332.5 404L329.7 405.1L333.2 407.5L337.4 408.9L343 411L344.4 413.8L345.8 417.3L350.7 419.4L356.3 421.5L360.5 426.1L362.6 429.9L367.5 433.4L371 435.9L378 436.6L384.3 435.9L392 436.9L399 439L403.9 443.2L408.1 446.7L411.6 449.5L413.3 456.5L415.8 462.8L420 465.6L420.7 469.8L417.2 474L413.7 477.5L410.9 481L413 484.5L415.1 481.7L417.9 478.2L422.8 475.4L427.7 478.2L431.2 479.6L430.5 484.5L427.7 488L422.8 489.4L417.2 490.1L415.8 491.5L423.5 491.1L429.1 488.7L432.6 483.1L437.5 481.7L444.5 483.8L451.5 486.6L457.1 490.1L458.5 495L460.6 496.4L464.8 494.3L471.1 495.7L478.1 497.8L485.1 497.4L491.4 498.5L497.7 502L502.6 505.5L508.2 509.7L512.4 512.1L518 513.2L522.2 513.9L523.9 518.8L525.3 523.7L526.4 528.6L526.1 534.2L523.9 539.8L520.8 544L518 547.5L516.6 551.7L223.3 551.7L222.6 547.5L219.8 541.9L217.3 535.6L213.5 529.3L210.3 525.1L205.8 521.6L201.9 518.8L202.7 513.9L200.9 509.7L203.7 505.5L207.2 501.6L210 499.2L211.4 495L209.3 494.3L207.2 496.4L203.3 493.2L204.8 488L203.7 484.5L206.5 481L208.6 477.5L209.7 472.6L212.1 470.9L217 469.1L218.4 465.2L220.5 460.7L225.4 459.3L227.5 455.1L229.6 450.9L227.5 448.1L228.6 442.5L227.5 438.6L228.6 433.4L226.1 428.9L224.7 426.4L222.6 421.5L220.8 418.7L222.9 419.1L221.2 416.6L217.7 414.5L213.5 414.9L211.4 417.3L207.2 419.8L207.6 422.2L210 425.4L206.5 426.8L203.3 426.8L202.3 423.2L198.1 421.1L193.9 419.4L189.7 421.1L188.3 418.4L184.1 418.4L184.1 415.2L180.6 411.4L176.4 409.9L175.7 408.2L174.3 410.3L170.1 407.9L169.1 404.7L170.1 401.2L168 397.7L163.8 393.9L160.3 390.4L156.1 386.9L158.2 385.1L154.7 384.8L149.8 385.1L144.2 383L140 381.6L134.4 380.2L128.8 378.8L123.9 375.6L119 371.1L112.7 365.9L107.1 364.1L102.9 364.8L98 367.2L93.1 367.6L87.5 365.9L81.2 363.4L75.6 361.3L70 358.9L65.8 357.8ZM774.2 226.2L770 226.5L765.1 227.6L760.9 230.4L756 231.8L749.7 230L744.1 230.8L739.2 231.5L735 229.3L732.6 226.2L728.7 226.9L727.3 230.4L724.5 236L722.1 239.2L716.8 242.3L710.5 244.8L707 247.9L704.9 250.7L702.8 254.9L701.4 257.7L701.1 263L702.4 265.4L700.7 269.6L696.5 274.5L690.2 278L682.5 281.5L678.3 283.6L674.8 289.2L668.9 294.1L666.4 299.7L662.2 306L658.4 311.6L655.9 316.5L652.1 322.1L651 327L650.6 331.5L653.8 333.3L655.9 336.8L654.5 341.7L657.3 347.3L657.6 352.9L655.9 358.5L654.5 364.1L651.7 369L647.9 372.5L651 375.3L652.8 380.2L652.4 385.1L652.8 390L655.2 392.8L658 394.9L661.5 398.4L665 401.2L667.8 404.7L672.7 408.9L676.2 412.4L677.6 417.3L679.7 422.2L683.9 425.7L689.5 429.2L694.4 433.4L700 436.9L705.6 441.1L711.9 444.6L716.8 447.1L721.7 444.6L728 443.2L735 441.4L742 440.8L748.3 441.8L754.6 443.9L759.5 442.1L764.4 440.4L770 437.6L774.2 436.9ZM774.2 131.7L770 132.1L767.2 132.4L762.3 132.1L761.2 129.9L756.7 129.6L758.8 133.1L759.5 136.9L756 136.9L751.1 137.3L748.3 135.6L742.7 136.6L737.1 137.7L736.8 139.1L739.9 140.1L737.1 141.2L740.6 142.9L746.2 143.6L750.4 145L753.9 147.1L756 149.9L758.8 152.7L761.9 154.8L762.3 158.3L761.6 162.5L761.2 166L760.2 170.9L758.1 173.7L751.8 173.7L744.8 173L738.5 173.7L730.8 172.3L723.8 172.7L716.8 171.2L712.6 172.7L707 175.1L704.9 177.2L707.7 181.4L708.1 184.9L709.4 189.8L708.4 194.7L707 199.6L704.2 202.1L703.5 206.2L705.6 208.3L708.4 208.7L708.4 212.2L707.4 218.5L711.9 218.2L716.1 218.5L719.6 217.1L723.1 219.2L725.9 221.7L728 224.1L730.8 225.5L732.9 224.1L737.8 220.9L744.1 220.6L749.7 220.6L754.6 220.6L757.4 217.1L761.6 214.7L765.1 213.9L765.8 210.1L768.6 208L771.4 206.2L774.2 205.9ZM774.2 121.9L770 121.9L763.7 122.2L757.4 122.9L753.2 123.7L749 122.6L745.5 124.7L744.1 126.1L739.9 125.1L735 126.8L730.1 127.2L732.9 125.4L736.4 122.9L739.2 120.5L740.6 119.1L746.2 119.1L749.7 117.7L747.6 117.3L743.4 116.3L739.9 116.3L735.7 115.9L732.9 114.2L737.8 112.8L741.3 110.7L741.6 107.2L737.1 107.9L739.2 105.1L738.5 103.7L744.1 104.4L748.3 103.7L749 100.2L746.2 97.4L745.5 94.6L746.9 92.8L742 93.9L736.4 94.6L734.3 92.5L735 88.3L774.2 88.3ZM728 88.3L730.8 93.2L731.5 96.3L728 99.5L726.6 103.7L728 107.2L725.9 111.4L721 112.8L715.4 113.8L710.5 115.6L704.2 117L699.3 115.9L700 113.5L697.2 112.8L701.4 110L704.2 107.2L705.6 105.4L700 103.7L700.7 100.2L699.3 98.1L709.8 97.4L711.2 95.3L709.1 92.5L712.6 91.1L715.4 88.3ZM381.5 116.3L380.8 118.4L378 121.9L373.1 127.5L377.3 128.2L380.8 128.2L378.7 130.7L383.6 130.3L388.5 131L394.8 132.4L395.5 135.2L399 137.3L394.1 140.8L399 141.5L401.1 145L399 150.9L394.8 150.9L394.8 147.1L391.3 149.6L386.4 146.1L381.5 149.2L378 148.5L379.4 145L372.4 144.7L364 143.6L354.9 144.3L357 140.8L361.2 138L355.6 137.3L361.2 133.8L364.7 129.6L368.2 124L371.7 119.8L378 116.3ZM318.5 128.2L325.5 128.6L332.5 130.7L338.1 133.4L333.2 133.4L325.5 132.1L319.2 129.6ZM319.2 149.2L323.4 151.3L329 152.3L336 152.3L332.5 155.5L326.9 154.8L322 152.7ZM252 193.3L256.2 191.2L261.8 190.5L264.6 189.4L266.7 190.2L262.5 191.9L256.9 193.3ZM175.3 324.5L179.2 322.1L182.7 319.3L187.6 316.1L193.2 314.8L199.5 315.1L205.8 315.5L210.7 317.5L217 320L221.9 321L227.5 323.9L231 326L235.9 328.8L240.8 330.5L245.7 333L250.9 335.8L249.2 337.1L242.9 338.2L235.9 337.9L228.9 338.5L226.1 338.5L230.3 334.4L224.7 332.6L220.5 329.8L219.1 326.6L212.8 325.6L207.2 323.9L200.9 322.8L197.4 322.1L194.6 320.4L190.4 319L186.2 322.1L182 323.9L178.5 325.2ZM188.3 324.9L191.8 324.2L192.2 326.6L189 327.4ZM248.8 349L254.8 347.3L261.8 347.6L263.6 346.6L260.4 343.8L256.2 340L259 338.2L266 339.2L273 338.5L280 340L280.7 342.4L285.6 342.4L289.1 344.9L291.6 347.3L289.1 350.1L282.8 348.7L278.6 349.8L275.1 348.7L272.3 352.9L268.8 353.2L267.4 350.5L262.5 350.1L256.2 350.1L252 350.8ZM221.6 349.4L225.4 348L231 348.7L235.9 350.5L235.9 352.2L231.7 352.5L228.9 353.2L224 351.5L221.9 350.1ZM299.2 348.7L304.5 348L310.4 349L310.1 351.1L305.2 351.9L299.6 351.5ZM336.7 407.1L338.4 402.6L343.3 401.9L343 406.1L342.3 407.1ZM222.6 301.5L225.1 301.5L226.8 306L226.8 309.5L224.7 310.2L222.6 306.7ZM217.3 291L224 290.2L225.1 291.6L219.8 292ZM228.2 289.2L231 291.6L231 294.8L228.9 296.2L229.2 292.7ZM254.4 329.5L258.3 328.4L259 330.5L255.5 330.9Z" fill="#d3d3d3" stroke="#111" stroke-width="0.9" stroke-linejoin="round"/>
<g fill="#d3d3d3" stroke="#111" stroke-width="0.6"><ellipse cx="339.2" cy="363.8" rx="1.8" ry="1.2"/><ellipse cx="343" cy="374.9" rx="1.4" ry="1"/><ellipse cx="343" cy="380.2" rx="0.9" ry="0.6"/><ellipse cx="340.9" cy="369.7" rx="1.1" ry="0.7"/><ellipse cx="353.2" cy="385.4" rx="0.9" ry="0.6"/><ellipse cx="341.6" cy="385.1" rx="0.7" ry="0.5"/><ellipse cx="338.1" cy="392.8" rx="0.7" ry="0.5"/><ellipse cx="337.4" cy="358.1" rx="0.7" ry="0.5"/><ellipse cx="330.8" cy="356.4" rx="0.7" ry="0.5"/><ellipse cx="291.9" cy="392.4" rx="1.1" ry="0.7"/><ellipse cx="287" cy="392.1" rx="1.1" ry="0.7"/><ellipse cx="280" cy="390" rx="0.8" ry="0.6"/><ellipse cx="322" cy="400.5" rx="1.8" ry="1.2"/><ellipse cx="316.4" cy="349" rx="0.8" ry="0.6"/><ellipse cx="328.7" cy="350.8" rx="0.7" ry="0.5"/><ellipse cx="241.5" cy="307.4" rx="1.4" ry="1"/><ellipse cx="236.6" cy="303.2" rx="1.4" ry="1"/><ellipse cx="245.7" cy="315.8" rx="1.4" ry="1"/><ellipse cx="259" cy="320.7" rx="1.1" ry="0.7"/><ellipse cx="268.1" cy="324.9" rx="1.4" ry="1"/><ellipse cx="236.6" cy="301.1" rx="0.7" ry="0.5"/><ellipse cx="228.2" cy="302.1" rx="0.8" ry="0.6"/><ellipse cx="654.5" cy="279.4" rx="2.1" ry="1.5"/><ellipse cx="660.8" cy="281.5" rx="1.8" ry="1.2"/><ellipse cx="672" cy="278.7" rx="2.1" ry="1.5"/><ellipse cx="674.8" cy="274.5" rx="1.4" ry="1"/><ellipse cx="645.1" cy="276.6" rx="1.1" ry="0.7"/><ellipse cx="649.6" cy="280.8" rx="0.8" ry="0.6"/><ellipse cx="651.4" cy="248.2" rx="1.4" ry="1"/><ellipse cx="591.5" cy="212.9" rx="2.1" ry="1.5"/><ellipse cx="571.9" cy="208" rx="2.1" ry="1.5"/><ellipse cx="579.6" cy="206.6" rx="1.1" ry="0.7"/><ellipse cx="551.6" cy="201.3" rx="0.7" ry="0.5"/><ellipse cx="594.3" cy="218.5" rx="0.6" ry="0.5"/><ellipse cx="604.8" cy="371.8" rx="1.5" ry="1.1"/><ellipse cx="599.6" cy="373.2" rx="0.8" ry="0.6"/><ellipse cx="594.3" cy="358.1" rx="1.4" ry="1"/><ellipse cx="600.6" cy="361.3" rx="1.1" ry="0.7"/><ellipse cx="609.7" cy="364.8" rx="0.8" ry="0.6"/><ellipse cx="609.7" cy="360.2" rx="0.6" ry="0.5"/><ellipse cx="607.9" cy="371.1" rx="0.6" ry="0.5"/><ellipse cx="316.8" cy="251.4" rx="0.7" ry="0.5"/><ellipse cx="201.2" cy="342.4" rx="0.7" ry="0.5"/><ellipse cx="161.7" cy="334.7" rx="1.1" ry="0.7"/><ellipse cx="164.5" cy="363" rx="1.4" ry="1"/><ellipse cx="198.1" cy="389.6" rx="0.6" ry="0.5"/><ellipse cx="132.3" cy="483.1" rx="2.4" ry="1.7"/><ellipse cx="137.2" cy="481.7" rx="1.1" ry="0.7"/><ellipse cx="143.5" cy="483.4" rx="1.1" ry="0.7"/><ellipse cx="129.5" cy="480.3" rx="0.8" ry="0.6"/><ellipse cx="135.1" cy="479.6" rx="0.8" ry="0.6"/><ellipse cx="350" cy="169.8" rx="1.4" ry="1"/><ellipse cx="337.4" cy="145.7" rx="1.4" ry="1"/><ellipse cx="375.9" cy="149.2" rx="0.7" ry="0.5"/><ellipse cx="725.9" cy="128.2" rx="0.6" ry="0.5"/><ellipse cx="738.5" cy="98.1" rx="1.4" ry="1"/></g>
<path d="M125.3 150.6L131.6 149.6L137.2 151.7L142.8 149.9L147.7 148.8L151.9 146.1L155.4 145.3L152.6 148.8L151.2 149.9L156.8 152.3L161.7 152.7L166.6 151.3L172.9 150.6L175.7 152.3L179.2 152.3L178.5 148.8L177.1 145L172.2 141.8L167.3 136.9L158.9 135.9L152.6 134.5L149.8 137.3L144.9 141.2L140.7 142.9L133.7 146.8L128.8 148.5ZM154.7 182.8L158.2 186.3L162.4 185.2L165.9 180L166.6 174.4L165.2 169.5L167.3 164.6L171.5 163.2L172.2 160.4L175.3 157.9L176.8 156.6L170.8 155.2L165.9 156.2L162.4 156.9L160.3 159.3L156.4 161.8L153.7 165.3L156.1 167.4L155.1 173L154 177.9ZM177.1 156.2L180.6 154.8L184.8 154.8L190.4 154.4L196 154.4L200.9 155.5L205.8 156.6L209.3 159.7L211.4 163.2L209.3 166L203.7 164.9L200.9 161.1L198.1 161.1L200.2 166L197.8 171.6L194.9 175.8L192.5 176.5L192.2 172.3L189 169.2L182.7 171.9L183.1 169.5L186.9 166.7L186.2 162.5L182.7 159.3L179.2 157.9ZM185.8 185.2L190.4 187.3L196 187L201.6 184.9L207.9 182.8L214.9 179.7L217.7 177.6L213.5 177.6L207.9 179.3L201.6 179.3L196.7 181.8L192.5 183.5L188.3 183.2ZM211.1 174.4L216.3 175.1L222.6 174.4L228.2 175.1L233.8 173.7L236.9 172.3L238 169.5L236.6 167.4L232.4 168.1L228.9 169.8L224 169.5L217 170.6L213.5 171.9ZM75.6 100.2L79.8 97.4L84 96L86.1 98.1L86.8 102.3L90.3 107.2L93.8 112.1L96.6 117L97.3 121.2L95.9 125.1L91.7 125.4L91.7 121.2L90.3 117L86.8 113.5L82.6 110.7L77.7 107.9L74.2 105.1ZM65.8 103.7L70.7 104.4L73.5 108.6L76.3 113.5L79.8 118.4L83.3 122.6L84 126.1L79.8 126.1L77 121.9L73.5 117.7L70 114.2L65.8 111.4Z" fill="#00ccff" stroke="#111" stroke-width="0.95" stroke-linejoin="round"/>
<g fill="#00ccff" stroke="#123" stroke-width="1"><ellipse cx="106.4" cy="131.7" rx="3.1" ry="2.1"/><ellipse cx="117.6" cy="137.3" rx="2.8" ry="0.8"/><ellipse cx="256.6" cy="165.7" rx="0.6" ry="2.4"/><ellipse cx="204.1" cy="288.9" rx="1.5" ry="1.4"/><ellipse cx="92.4" cy="240.2" rx="0.8" ry="0.7"/><ellipse cx="193.9" cy="240.9" rx="0.7" ry="0.6"/><ellipse cx="214.2" cy="166.7" rx="1.1" ry="0.8"/><ellipse cx="139.3" cy="266.1" rx="2.1" ry="0.8"/><ellipse cx="175.7" cy="399.1" rx="0.5" ry="0.5"/></g>
<path d="M268.8 401.2L271.6 403.3L273 407.5L272.3 411.7L268.8 414.1L266 411.7L265.3 407.5L266.7 403.3Z" fill="#ffd900" stroke="#111" stroke-width="0.7"/>
<path d="M168.7 394.2L173.6 395.2L176.4 399.4L172.9 399.8L170.1 397Z" fill="#ffd900" stroke="#111" stroke-width="0.7"/>
<path d="M238.6 200.5l-1 2.4l1.2 1.6l-1.6 2l.8 2.2l-1.8 1.4l1 2.6l-1.4 1.8l.6 2.4l-1.6 1.6l.4 2.6M240.8 203l-.6 2.8l1 2.2l-1.2 2.6l.4 2.8l-1 2.4M236 206l-1.8 1.2l.4 2l-1.6 1.6M235.2 213l-2 1l-.4 2.2M237.6 219l-2.2 1.2l-.8 2.4l-1.8 1.2M241.6 215.6l1.2 2.4l-.6 2.6l1 2l-1 2.6M233.5 226l-1.6 2.2l-2.2 1l-.6 2.2M243.8 197.6l1.2 2l2 .8l.6 2.2l1.8 1.2M245.4 205.4l-.8 2.6l.6 2.4l-1 2.2" fill="none" stroke="#222" stroke-width="0.9"/><path d="M411 479.5l2.6-2l3.4-.6l2.8 1.2l2.4-.8l2 1.6l-1.2 2.8l.6 3l-1.4 3l-2.6 1l-3.4-.4l-3.2.8l-2.8-1.2l2.2-1.8l3 .4l2.8-1l.4-2.8l-1.6-2.4l-2.8-.6zM408.8 484l-1.4 2.4l1 2.6M425.6 487.4l1 3.2l-1.4 2.6M429.8 483l2.2 1.4" fill="none" stroke="#333" stroke-width="0.8"/><path d="M759.8 413.5l1.2 2.2l-1 1.3l2.3 2l1 2.2l2.6 1.2l-1.2 1.6l2.2 1.4l-.6 2l2.3 1.6l.4 2.4l-1.6-1l-1.8.6l.3-2l-2.3-.8l.2-1.9l-2-1.2l-.6-2.4l-1.8-1.6l.4-1.8l-1.6-1.7zM765 425l-3 1.4M766.5 429l-3.4 2" fill="#445" stroke="#223" stroke-width="0.9"/>
<path d="M140 92.5V547.5M210 92.5V547.5M280 92.5V547.5M350 92.5V547.5M420 92.5V547.5M490 92.5V547.5M560 92.5V547.5M630 92.5V547.5M700 92.5V547.5M70.0 127.5H770.0M70.0 197.5H770.0M70.0 267.5H770.0M70.0 337.5H770.0M70.0 407.5H770.0M70.0 477.5H770.0" stroke="#6a6a6a" stroke-width="1" fill="none"/>
</g>
<path d="M70 77.0V92.5M70 547.5V562.5M140 77.0V92.5M140 547.5V562.5M210 77.0V92.5M210 547.5V562.5M280 77.0V92.5M280 547.5V562.5M350 77.0V92.5M350 547.5V562.5M420 77.0V92.5M420 547.5V562.5M490 77.0V92.5M490 547.5V562.5M560 77.0V92.5M560 547.5V562.5M630 77.0V92.5M630 547.5V562.5M700 77.0V92.5M700 547.5V562.5M770 77.0V92.5M770 547.5V562.5M54.2 127.5H70.0M770.0 127.5H785.8M54.2 197.5H70.0M770.0 197.5H785.8M54.2 267.5H70.0M770.0 267.5H785.8M54.2 337.5H70.0M770.0 337.5H785.8M54.2 407.5H70.0M770.0 407.5H785.8M54.2 477.5H70.0M770.0 477.5H785.8M54.2 547.5H70.0M770.0 547.5H785.8" stroke="#222" stroke-width="1.1" fill="none"/>
<path d="M70.0 92.5H770.0M70.0 547.5H770.0" stroke="#111" stroke-width="1.1" fill="none"/>
<path d="M70.0 92.5V547.5M770.0 92.5V547.5" stroke="#222" stroke-width="1.3" fill="none"/>
<rect x="111.4" y="627.3" width="19.3" height="40.2" fill="#00cdfc" stroke="#222" stroke-width="0.7"/>
<rect x="130.7" y="627.3" width="19.3" height="40.2" fill="#08f2ff" stroke="#222" stroke-width="0.7"/>
<rect x="150" y="627.3" width="19.3" height="40.2" fill="#26faff" stroke="#222" stroke-width="0.7"/>
<rect x="169.3" y="627.3" width="19.3" height="40.2" fill="#46fcff" stroke="#222" stroke-width="0.7"/>
<rect x="188.6" y="627.3" width="19.3" height="40.2" fill="#69fdff" stroke="#222" stroke-width="0.7"/>
<rect x="207.8" y="627.3" width="19.3" height="40.2" fill="#8effff" stroke="#222" stroke-width="0.7"/>
<rect x="227.1" y="627.3" width="19.3" height="40.2" fill="#82ffd4" stroke="#222" stroke-width="0.7"/>
<rect x="246.4" y="627.3" width="19.3" height="40.2" fill="#64ffa6" stroke="#222" stroke-width="0.7"/>
<rect x="265.7" y="627.3" width="19.3" height="40.2" fill="#42fa72" stroke="#222" stroke-width="0.7"/>
<rect x="285" y="627.3" width="19.3" height="40.2" fill="#1cf63a" stroke="#222" stroke-width="0.7"/>
<rect x="304.3" y="627.3" width="19.3" height="40.2" fill="#05fa12" stroke="#222" stroke-width="0.7"/>
<rect x="323.6" y="627.3" width="19.3" height="40.2" fill="#3aff04" stroke="#222" stroke-width="0.7"/>
<rect x="342.9" y="627.3" width="19.3" height="40.2" fill="#64ff04" stroke="#222" stroke-width="0.7"/>
<rect x="362.1" y="627.3" width="19.3" height="40.2" fill="#91ff00" stroke="#222" stroke-width="0.7"/>
<rect x="381.4" y="627.3" width="19.3" height="40.2" fill="#b6ff00" stroke="#222" stroke-width="0.7"/>
<rect x="400.7" y="627.3" width="19.3" height="40.2" fill="#caff00" stroke="#222" stroke-width="0.7"/>
<rect x="420" y="627.3" width="19.3" height="40.2" fill="#d8ff00" stroke="#222" stroke-width="0.7"/>
<rect x="439.3" y="627.3" width="19.3" height="40.2" fill="#e3ff00" stroke="#222" stroke-width="0.7"/>
<rect x="458.6" y="627.3" width="19.3" height="40.2" fill="#edff00" stroke="#222" stroke-width="0.7"/>
<rect x="477.9" y="627.3" width="19.3" height="40.2" fill="#f7ff04" stroke="#222" stroke-width="0.7"/>
<rect x="497.1" y="627.3" width="19.3" height="40.2" fill="#fffd00" stroke="#222" stroke-width="0.7"/>
<rect x="516.4" y="627.3" width="19.3" height="40.2" fill="#ffed00" stroke="#222" stroke-width="0.7"/>
<rect x="535.7" y="627.3" width="19.3" height="40.2" fill="#ffd900" stroke="#222" stroke-width="0.7"/>
<rect x="555" y="627.3" width="19.3" height="40.2" fill="#ffc000" stroke="#222" stroke-width="0.7"/>
<rect x="574.3" y="627.3" width="19.3" height="40.2" fill="#ffa700" stroke="#222" stroke-width="0.7"/>
<rect x="593.6" y="627.3" width="19.3" height="40.2" fill="#ff9600" stroke="#222" stroke-width="0.7"/>
<rect x="612.9" y="627.3" width="19.3" height="40.2" fill="#ff7e00" stroke="#222" stroke-width="0.7"/>
<rect x="632.2" y="627.3" width="19.3" height="40.2" fill="#ff6600" stroke="#222" stroke-width="0.7"/>
<rect x="651.5" y="627.3" width="19.3" height="40.2" fill="#ff5200" stroke="#222" stroke-width="0.7"/>
<rect x="670.7" y="627.3" width="19.3" height="40.2" fill="#ff4000" stroke="#222" stroke-width="0.7"/>
<rect x="690" y="627.3" width="19.3" height="40.2" fill="#ff2a00" stroke="#222" stroke-width="0.7"/>
<rect x="709.3" y="627.3" width="19.3" height="40.2" fill="#ff1800" stroke="#222" stroke-width="0.7"/>
<defs><clipPath id="nc"><circle cx="40.25" cy="39.75" r="25.3"/></clipPath><path id="nt1" d="M16.14 49.49 A26.00 26.00 0 1 1 64.36 49.49"/><path id="nt2" d="M14.05 53.10 A29.40 29.40 0 0 0 65.71 54.45"/></defs><circle cx="40.25" cy="39.75" r="25.3" fill="#1e9df1"/><g clip-path="url(#nc)"><path d="M10 10H70V24L60.5 24.5Q53 37 43 44.2Q40.8 45 38.5 43.5Q28 36 18.5 26.5L10 26Z" fill="#16107a"/><path d="M13 31.5L18.6 26.6Q28 36 38.5 43.4Q40.8 45 43 44.2Q53 37 60.3 24.6L63.5 27.2Q58 37 50 43Q44 47.5 39 49.6Q35.5 50 32.6 48.6Q36 48 37.5 46.6Q30 44.5 22 38.5Q17 35 13 33.5Z" fill="#fff"/></g><text x="40" y="31.6" font-size="8.2" font-weight="bold" fill="#fff" text-anchor="middle" textLength="21" lengthAdjust="spacingAndGlyphs">NOAA</text><text font-size="3.9" fill="#1a1a6e" font-weight="bold"><textPath href="#nt1" textLength="100" lengthAdjust="spacing">NATIONAL OCEANIC AND ATMOSPHERIC ADMINISTRATION</textPath></text><text font-size="3.9" fill="#1a1a6e" font-weight="bold"><textPath href="#nt2" textLength="60" lengthAdjust="spacing">U.S. DEPARTMENT OF COMMERCE</textPath></text><circle cx="63.2" cy="15.6" r="1.2" fill="none" stroke="#3a7a3a" stroke-width="0.5"/><defs><clipPath id="wc"><circle cx="760.0" cy="40.4" r="18.8"/></clipPath><path id="wt" d="M746.58 58.21 A22.30 22.30 0 1 1 772.47 58.89"/></defs><circle cx="760.0" cy="40.4" r="18.8" fill="#45b4e6"/><g clip-path="url(#wc)"><path d="M753.1 40.4L734.0 29.4M755.4 37.8L742.8 19.8M758.6 36.5L754.8 14.9M762.1 36.7L767.8 15.4M765.1 38.3L779.3 21.4M767.3 41.0L787.2 31.7" stroke="#d8f0fa" stroke-width="1.2" fill="none"/><path d="M738 50Q745 54 752 52Q760 49 768 52Q775 54 783 50V58Q775 57 768 55Q760 52.5 752 55.5Q745 57 738 54Z" fill="#fff"/></g><path d="M741.5 46.5Q738.5 44 740.5 40.5Q739.5 35.5 744.5 34.5Q747.5 30.5 752.5 32.5Q756 29.5 760 31.5Q765 28 769.5 31Q775 30.5 776.5 34.5Q781.5 35.5 780.5 40Q782 44 777.5 46Q774 50 768.5 48.5Q763 51.5 757.5 49.5Q751 51.5 747.5 48.5Q743.5 49 741.5 46.5Z" fill="#1c1ca8"/><path d="M745.8 23.8L756.9 32L754.5 32.9L763 39.6L760.7 40.5L773.6 54.8L757.6 41.9L760.2 41L751.7 34.4L754 33.5Z" fill="#fff" stroke="#2222aa" stroke-width="0.55" stroke-linejoin="round"/><g transform="translate(760 40.4) scale(1 0.92) translate(-760 -40.4)"><text font-size="7.3" font-weight="bold" fill="#e6222c" stroke="#e6222c" stroke-width="0.4"><textPath href="#wt" textLength="113" lengthAdjust="spacing">NATIONAL WEATHER SERVICE</textPath></text></g><circle cx="752.7" cy="64.7" r="0.9" fill="#2a2ab0"/><circle cx="767.3" cy="64.7" r="0.9" fill="#2a2ab0"/><path d="M760 63.2L760.6 64.8L762.3 64.8L761 65.8L761.5 67.4L760 66.4L758.5 67.4L759 65.8L757.7 64.8L759.4 64.8Z" fill="#e6222c"/>
</svg>
<div class="t" style="left:194.5px;top:57.4px;font-size:19.2px;font-weight:bold;transform:scaleX(1.074);transform-origin:0 0">NWS National Hurricane Center (NCEP/NOAA)</div>
<div class="t" style="left:96px;top:595.8px;font-size:15.35px;font-weight:bold;transform:scaleX(1.0725);transform-origin:0 0">Ocean Analysis - Reynolds Daily Sea Surface Temperature (C) - valid: 2026 - 04 - 04</div>
<div class="t" style="left:41.4px;top:573.6px;width:56px;text-align:center;font-size:16px;transform:scaleX(1.005)">100W</div>
<div class="t" style="left:111.4px;top:573.6px;width:56px;text-align:center;font-size:16px;transform:scaleX(1.005)">90W</div>
<div class="t" style="left:181.4px;top:573.6px;width:56px;text-align:center;font-size:16px;transform:scaleX(1.005)">80W</div>
<div class="t" style="left:251.4px;top:573.6px;width:56px;text-align:center;font-size:16px;transform:scaleX(1.005)">70W</div>
<div class="t" style="left:321.4px;top:573.6px;width:56px;text-align:center;font-size:16px;transform:scaleX(1.005)">60W</div>
<div class="t" style="left:391.4px;top:573.6px;width:56px;text-align:center;font-size:16px;transform:scaleX(1.005)">50W</div>
<div class="t" style="left:461.4px;top:573.6px;width:56px;text-align:center;font-size:16px;transform:scaleX(1.005)">40W</div>
<div class="t" style="left:531.4px;top:573.6px;width:56px;text-align:center;font-size:16px;transform:scaleX(1.005)">30W</div>
<div class="t" style="left:601.4px;top:573.6px;width:56px;text-align:center;font-size:16px;transform:scaleX(1.005)">20W</div>
<div class="t" style="left:671.4px;top:573.6px;width:56px;text-align:center;font-size:16px;transform:scaleX(1.005)">10W</div>
<div class="t" style="left:741.4px;top:573.6px;width:56px;text-align:center;font-size:16px;transform:scaleX(1.005)">0</div>
<div class="t" style="left:0px;top:119.6px;width:44.2px;text-align:right;font-size:16.3px;transform:scaleX(1.01);transform-origin:100% 0">50N</div>
<div class="t" style="left:0px;top:189.6px;width:44.2px;text-align:right;font-size:16.3px;transform:scaleX(1.01);transform-origin:100% 0">40N</div>
<div class="t" style="left:0px;top:259.6px;width:44.2px;text-align:right;font-size:16.3px;transform:scaleX(1.01);transform-origin:100% 0">30N</div>
<div class="t" style="left:0px;top:329.6px;width:44.2px;text-align:right;font-size:16.3px;transform:scaleX(1.01);transform-origin:100% 0">20N</div>
<div class="t" style="left:0px;top:399.6px;width:44.2px;text-align:right;font-size:16.3px;transform:scaleX(1.01);transform-origin:100% 0">10N</div>
<div class="t" style="left:0px;top:469.6px;width:44.2px;text-align:right;font-size:16.3px;transform:scaleX(1.01);transform-origin:100% 0">0</div>
<div class="t" style="left:0px;top:539.6px;width:44.2px;text-align:right;font-size:16.3px;transform:scaleX(1.01);transform-origin:100% 0">10S</div>
<div class="t" style="left:100.7px;top:678.8px;width:60px;text-align:center;font-size:18.9px;transform:scaleX(1.1)">5</div>
<div class="t" style="left:197.1px;top:678.8px;width:60px;text-align:center;font-size:18.9px;transform:scaleX(1.1)">10</div>
<div class="t" style="left:293.6px;top:678.8px;width:60px;text-align:center;font-size:18.9px;transform:scaleX(1.1)">15</div>
<div class="t" style="left:390.0px;top:678.8px;width:60px;text-align:center;font-size:18.9px;transform:scaleX(1.1)">20</div>
<div class="t" style="left:486.4px;top:678.8px;width:60px;text-align:center;font-size:18.9px;transform:scaleX(1.1)">25</div>
<div class="t" style="left:582.9px;top:678.8px;width:60px;text-align:center;font-size:18.9px;transform:scaleX(1.1)">30</div>
<div class="t" style="left:679.3px;top:678.8px;width:60px;text-align:center;font-size:18.9px;transform:scaleX(1.1)">35</div>
<div class="t" style="right:25.1px;top:711.6px;font-size:13.1px;transform:scaleX(1.05);transform-origin:100% 0">Data Source: National Climatic Data Center (NCDC/NOAA)</div>
</body></html>
